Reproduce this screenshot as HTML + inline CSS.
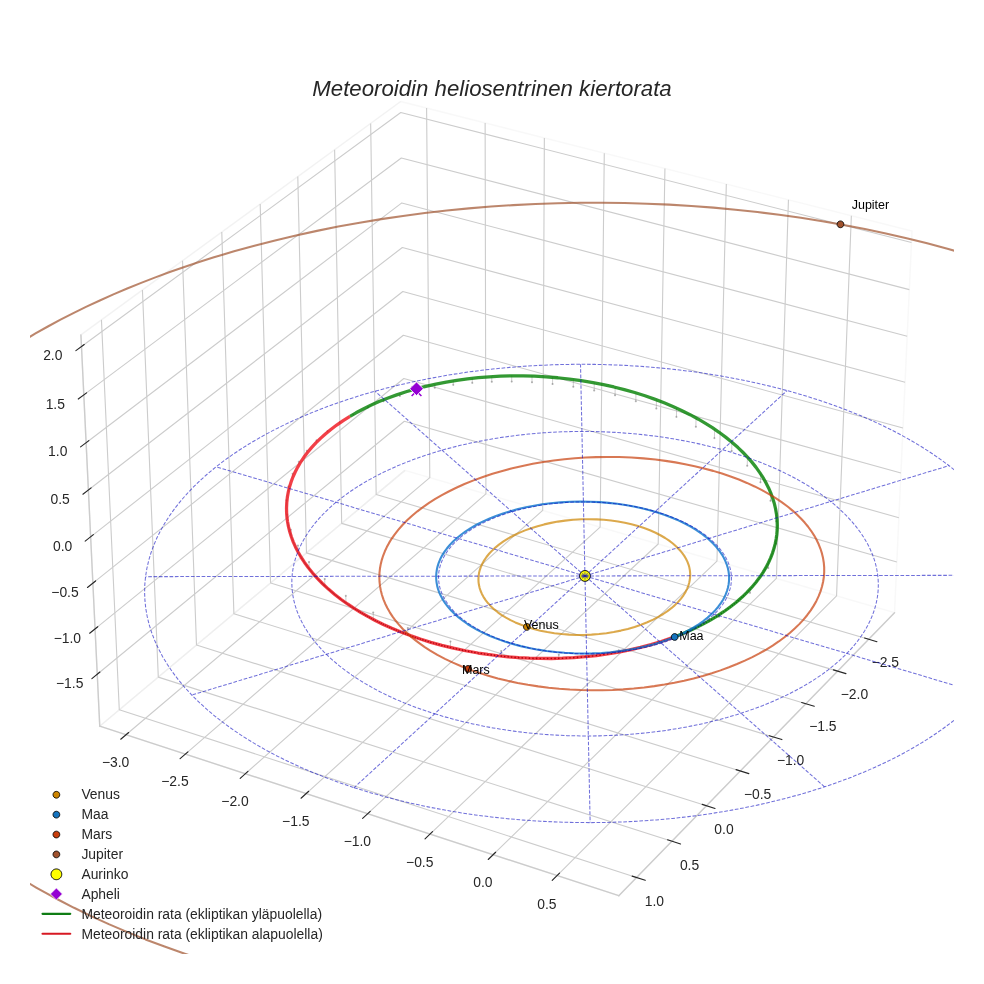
<!DOCTYPE html>
<html lang="fi"><head><meta charset="utf-8"><title>Meteoroidin heliosentrinen kiertorata</title>
<style>html,body{margin:0;padding:0;background:#fff}svg{display:block}</style></head>
<body>
<svg width="984" height="984" viewBox="0 0 708.48 708.48">
<defs>
<style type="text/css">*{stroke-linejoin: round; stroke-linecap: butt}</style>
</defs>
<g id="figure_1">
<g id="patch_1">
<path d="M 0 708.48 L 708.48 708.48 L 708.48 0 L 0 0 z" style="fill: #ffffff"/>
</g>
<g id="patch_2">
<path d="M 21.6 686.88 L 686.88 686.88 L 686.88 21.6 L 21.6 21.6 z" style="fill: #ffffff"/>
</g>
<g id="pane3d_1">
<g id="patch_3">
<path d="M 291.53 338.68 L 644.06 441.15 L 656.64 166.42 L 288.47 73.10" style="fill: none; opacity: 0.5; stroke: #f2f2f2; stroke-linejoin: miter"/>
</g>
</g>
<g id="pane3d_2">
<g id="patch_4">
<path d="M 291.53 338.68 L 71.83 522.84 L 58.26 241.10 L 288.47 73.10" style="fill: none; opacity: 0.5; stroke: #e6e6e6; stroke-linejoin: miter"/>
</g>
</g>
<g id="pane3d_3">
<g id="patch_5">
<path d="M 291.53 338.68 L 71.83 522.84 L 445.53 644.89 L 644.06 441.15" style="fill: none; opacity: 0.5; stroke: #ececec; stroke-linejoin: miter"/>
</g>
</g>
<g id="grid3d_1">
<g id="Line3DCollection_1">
<path d="M 625.45 460.25 L 270.85 356.01 L 266.88 88.86" style="fill: none; stroke: #cccccc; stroke-width: 0.8"/>
<path d="M 603.07 483.22 L 246.01 376.84 L 240.92 107.80" style="fill: none; stroke: #cccccc; stroke-width: 0.8"/>
<path d="M 580.22 506.67 L 220.66 398.08 L 214.41 127.15" style="fill: none; stroke: #cccccc; stroke-width: 0.8"/>
<path d="M 556.88 530.62 L 194.81 419.76 L 187.34 146.90" style="fill: none; stroke: #cccccc; stroke-width: 0.8"/>
<path d="M 533.03 555.10 L 168.41 441.88 L 159.68 167.08" style="fill: none; stroke: #cccccc; stroke-width: 0.8"/>
<path d="M 508.66 580.11 L 141.47 464.46 L 131.43 187.70" style="fill: none; stroke: #cccccc; stroke-width: 0.8"/>
<path d="M 483.75 605.67 L 113.97 487.52 L 102.55 208.77" style="fill: none; stroke: #cccccc; stroke-width: 0.8"/>
<path d="M 458.28 631.81 L 85.88 511.06 L 73.04 230.31" style="fill: none; stroke: #cccccc; stroke-width: 0.8"/>
</g>
</g>
<g id="grid3d_2">
<g id="Line3DCollection_2">
<path d="M 307.15 77.83 L 309.45 343.89 L 90.74 529.02" style="fill: none; stroke: #cccccc; stroke-width: 0.8"/>
<path d="M 349.29 88.52 L 349.86 355.64 L 133.44 542.96" style="fill: none; stroke: #cccccc; stroke-width: 0.8"/>
<path d="M 391.93 99.32 L 390.74 367.52 L 176.67 557.08" style="fill: none; stroke: #cccccc; stroke-width: 0.8"/>
<path d="M 435.08 110.26 L 432.09 379.54 L 220.44 571.37" style="fill: none; stroke: #cccccc; stroke-width: 0.8"/>
<path d="M 478.75 121.33 L 473.91 391.70 L 264.75 585.85" style="fill: none; stroke: #cccccc; stroke-width: 0.8"/>
<path d="M 522.95 132.53 L 516.22 403.99 L 309.63 600.50" style="fill: none; stroke: #cccccc; stroke-width: 0.8"/>
<path d="M 567.68 143.87 L 559.02 416.43 L 355.08 615.35" style="fill: none; stroke: #cccccc; stroke-width: 0.8"/>
<path d="M 612.97 155.35 L 602.32 429.02 L 401.11 630.38" style="fill: none; stroke: #cccccc; stroke-width: 0.8"/>
</g>
</g>
<g id="grid3d_3">
<g id="Line3DCollection_3">
<path d="M 70.03 485.43 L 291.12 303.31 L 645.73 404.62" style="fill: none; stroke: #cccccc; stroke-width: 0.8"/>
<path d="M 68.46 452.81 L 290.76 272.49 L 647.19 372.78" style="fill: none; stroke: #cccccc; stroke-width: 0.8"/>
<path d="M 66.87 419.84 L 290.41 241.36 L 648.67 340.61" style="fill: none; stroke: #cccccc; stroke-width: 0.8"/>
<path d="M 65.26 386.51 L 290.04 209.92 L 650.15 308.10" style="fill: none; stroke: #cccccc; stroke-width: 0.8"/>
<path d="M 63.64 352.82 L 289.68 178.18 L 651.66 275.25" style="fill: none; stroke: #cccccc; stroke-width: 0.8"/>
<path d="M 62.00 318.76 L 289.31 146.11 L 653.18 242.06" style="fill: none; stroke: #cccccc; stroke-width: 0.8"/>
<path d="M 60.34 284.33 L 288.94 113.72 L 654.71 208.51" style="fill: none; stroke: #cccccc; stroke-width: 0.8"/>
<path d="M 58.67 249.51 L 288.56 81.00 L 656.27 174.61" style="fill: none; stroke: #cccccc; stroke-width: 0.8"/>
</g>
</g>
<g id="axis3d_1">
<g id="line2d_1">
<path d="M 644.06 441.15 L 445.53 644.89" style="fill: none; stroke: #cccccc; stroke-linecap: round"/>
</g>
<g id="xtick_1">
<g id="line2d_2">
<path d="M 363.23 345.24" clip-path="url(#p04e8b476af)" style="fill: none; stroke: #cccccc; stroke-width: 0.8; stroke-linecap: round"/>
</g>
<g id="line2d_3">
<path d="M 622.48 459.37 L 631.41 462.00" style="fill: none; stroke: #262626; stroke-width: 0.8; stroke-linecap: round"/>
</g>
<g id="text_1">
<text style="font-size: 10px; font-family: 'Liberation Sans', sans-serif; text-anchor: middle; fill: #262626" x="637.44" y="479.91" transform="rotate(0 637.44 479.91)">−2.5</text>
</g>
</g>
<g id="xtick_2">
<g id="line2d_4">
<path d="M 363.23 345.24" clip-path="url(#p04e8b476af)" style="fill: none; stroke: #cccccc; stroke-width: 0.8; stroke-linecap: round"/>
</g>
<g id="line2d_5">
<path d="M 600.07 482.32 L 609.08 485.01" style="fill: none; stroke: #262626; stroke-width: 0.8; stroke-linecap: round"/>
</g>
<g id="text_2">
<text style="font-size: 10px; font-family: 'Liberation Sans', sans-serif; text-anchor: middle; fill: #262626" x="615.18" y="503.01" transform="rotate(0 615.18 503.01)">−2.0</text>
</g>
</g>
<g id="xtick_3">
<g id="line2d_6">
<path d="M 363.23 345.24" clip-path="url(#p04e8b476af)" style="fill: none; stroke: #cccccc; stroke-width: 0.8; stroke-linecap: round"/>
</g>
<g id="line2d_7">
<path d="M 577.20 505.76 L 586.27 508.50" style="fill: none; stroke: #262626; stroke-width: 0.8; stroke-linecap: round"/>
</g>
<g id="text_3">
<text style="font-size: 10px; font-family: 'Liberation Sans', sans-serif; text-anchor: middle; fill: #262626" x="592.45" y="526.60" transform="rotate(0 592.45 526.60)">−1.5</text>
</g>
</g>
<g id="xtick_4">
<g id="line2d_8">
<path d="M 363.23 345.24" clip-path="url(#p04e8b476af)" style="fill: none; stroke: #cccccc; stroke-width: 0.8; stroke-linecap: round"/>
</g>
<g id="line2d_9">
<path d="M 553.83 529.69 L 562.97 532.49" style="fill: none; stroke: #262626; stroke-width: 0.8; stroke-linecap: round"/>
</g>
<g id="text_4">
<text style="font-size: 10px; font-family: 'Liberation Sans', sans-serif; text-anchor: middle; fill: #262626" x="569.23" y="550.70" transform="rotate(0 569.23 550.70)">−1.0</text>
</g>
</g>
<g id="xtick_5">
<g id="line2d_10">
<path d="M 363.23 345.24" clip-path="url(#p04e8b476af)" style="fill: none; stroke: #cccccc; stroke-width: 0.8; stroke-linecap: round"/>
</g>
<g id="line2d_11">
<path d="M 529.96 554.15 L 539.17 557.01" style="fill: none; stroke: #262626; stroke-width: 0.8; stroke-linecap: round"/>
</g>
<g id="text_5">
<text style="font-size: 10px; font-family: 'Liberation Sans', sans-serif; text-anchor: middle; fill: #262626" x="545.51" y="575.32" transform="rotate(0 545.51 575.32)">−0.5</text>
</g>
</g>
<g id="xtick_6">
<g id="line2d_12">
<path d="M 363.23 345.24" clip-path="url(#p04e8b476af)" style="fill: none; stroke: #cccccc; stroke-width: 0.8; stroke-linecap: round"/>
</g>
<g id="line2d_13">
<path d="M 505.57 579.13 L 514.85 582.06" style="fill: none; stroke: #262626; stroke-width: 0.8; stroke-linecap: round"/>
</g>
<g id="text_6">
<text style="font-size: 10px; font-family: 'Liberation Sans', sans-serif; text-anchor: middle; fill: #262626" x="521.27" y="600.47" transform="rotate(0 521.27 600.47)">0.0</text>
</g>
</g>
<g id="xtick_7">
<g id="line2d_14">
<path d="M 363.23 345.24" clip-path="url(#p04e8b476af)" style="fill: none; stroke: #cccccc; stroke-width: 0.8; stroke-linecap: round"/>
</g>
<g id="line2d_15">
<path d="M 480.63 604.68 L 489.99 607.66" style="fill: none; stroke: #262626; stroke-width: 0.8; stroke-linecap: round"/>
</g>
<g id="text_7">
<text style="font-size: 10px; font-family: 'Liberation Sans', sans-serif; text-anchor: middle; fill: #262626" x="496.49" y="626.19" transform="rotate(0 496.49 626.19)">0.5</text>
</g>
</g>
<g id="xtick_8">
<g id="line2d_16">
<path d="M 363.23 345.24" clip-path="url(#p04e8b476af)" style="fill: none; stroke: #cccccc; stroke-width: 0.8; stroke-linecap: round"/>
</g>
<g id="line2d_17">
<path d="M 455.14 630.79 L 464.57 633.84" style="fill: none; stroke: #262626; stroke-width: 0.8; stroke-linecap: round"/>
</g>
<g id="text_8">
<text style="font-size: 10px; font-family: 'Liberation Sans', sans-serif; text-anchor: middle; fill: #262626" x="471.16" y="652.48" transform="rotate(0 471.16 652.48)">1.0</text>
</g>
</g>
</g>
<g id="axis3d_2">
<g id="line2d_18">
<path d="M 71.83 522.84 L 445.53 644.89" style="fill: none; stroke: #cccccc; stroke-linecap: round"/>
</g>
<g id="xtick_9">
<g id="line2d_19">
<path d="M 363.23 345.24" clip-path="url(#p04e8b476af)" style="fill: none; stroke: #cccccc; stroke-width: 0.8; stroke-linecap: round"/>
</g>
<g id="line2d_20">
<path d="M 92.65 527.40 L 86.93 532.25" style="fill: none; stroke: #262626; stroke-width: 0.8; stroke-linecap: round"/>
</g>
<g id="text_9">
<text style="font-size: 10px; font-family: 'Liberation Sans', sans-serif; text-anchor: middle; fill: #262626" x="83.23" y="551.93" transform="rotate(0 83.23 551.93)">−3.0</text>
</g>
</g>
<g id="xtick_10">
<g id="line2d_21">
<path d="M 363.23 345.24" clip-path="url(#p04e8b476af)" style="fill: none; stroke: #cccccc; stroke-width: 0.8; stroke-linecap: round"/>
</g>
<g id="line2d_22">
<path d="M 135.33 541.33 L 129.66 546.23" style="fill: none; stroke: #262626; stroke-width: 0.8; stroke-linecap: round"/>
</g>
<g id="text_10">
<text style="font-size: 10px; font-family: 'Liberation Sans', sans-serif; text-anchor: middle; fill: #262626" x="125.95" y="565.99" transform="rotate(0 125.95 565.99)">−2.5</text>
</g>
</g>
<g id="xtick_11">
<g id="line2d_23">
<path d="M 363.23 345.24" clip-path="url(#p04e8b476af)" style="fill: none; stroke: #cccccc; stroke-width: 0.8; stroke-linecap: round"/>
</g>
<g id="line2d_24">
<path d="M 178.53 555.43 L 172.93 560.39" style="fill: none; stroke: #262626; stroke-width: 0.8; stroke-linecap: round"/>
</g>
<g id="text_11">
<text style="font-size: 10px; font-family: 'Liberation Sans', sans-serif; text-anchor: middle; fill: #262626" x="169.19" y="580.23" transform="rotate(0 169.19 580.23)">−2.0</text>
</g>
</g>
<g id="xtick_12">
<g id="line2d_25">
<path d="M 363.23 345.24" clip-path="url(#p04e8b476af)" style="fill: none; stroke: #cccccc; stroke-width: 0.8; stroke-linecap: round"/>
</g>
<g id="line2d_26">
<path d="M 222.28 569.70 L 216.74 574.73" style="fill: none; stroke: #262626; stroke-width: 0.8; stroke-linecap: round"/>
</g>
<g id="text_12">
<text style="font-size: 10px; font-family: 'Liberation Sans', sans-serif; text-anchor: middle; fill: #262626" x="212.98" y="594.64" transform="rotate(0 212.98 594.64)">−1.5</text>
</g>
</g>
<g id="xtick_13">
<g id="line2d_27">
<path d="M 363.23 345.24" clip-path="url(#p04e8b476af)" style="fill: none; stroke: #cccccc; stroke-width: 0.8; stroke-linecap: round"/>
</g>
<g id="line2d_28">
<path d="M 266.58 584.15 L 261.09 589.24" style="fill: none; stroke: #262626; stroke-width: 0.8; stroke-linecap: round"/>
</g>
<g id="text_13">
<text style="font-size: 10px; font-family: 'Liberation Sans', sans-serif; text-anchor: middle; fill: #262626" x="257.31" y="609.24" transform="rotate(0 257.31 609.24)">−1.0</text>
</g>
</g>
<g id="xtick_14">
<g id="line2d_29">
<path d="M 363.23 345.24" clip-path="url(#p04e8b476af)" style="fill: none; stroke: #cccccc; stroke-width: 0.8; stroke-linecap: round"/>
</g>
<g id="line2d_30">
<path d="M 311.43 598.79 L 306.02 603.94" style="fill: none; stroke: #262626; stroke-width: 0.8; stroke-linecap: round"/>
</g>
<g id="text_14">
<text style="font-size: 10px; font-family: 'Liberation Sans', sans-serif; text-anchor: middle; fill: #262626" x="302.21" y="624.02" transform="rotate(0 302.21 624.02)">−0.5</text>
</g>
</g>
<g id="xtick_15">
<g id="line2d_31">
<path d="M 363.23 345.24" clip-path="url(#p04e8b476af)" style="fill: none; stroke: #cccccc; stroke-width: 0.8; stroke-linecap: round"/>
</g>
<g id="line2d_32">
<path d="M 356.86 613.61 L 351.51 618.83" style="fill: none; stroke: #262626; stroke-width: 0.8; stroke-linecap: round"/>
</g>
<g id="text_15">
<text style="font-size: 10px; font-family: 'Liberation Sans', sans-serif; text-anchor: middle; fill: #262626" x="347.69" y="638.99" transform="rotate(0 347.69 638.99)">0.0</text>
</g>
</g>
<g id="xtick_16">
<g id="line2d_33">
<path d="M 363.23 345.24" clip-path="url(#p04e8b476af)" style="fill: none; stroke: #cccccc; stroke-width: 0.8; stroke-linecap: round"/>
</g>
<g id="line2d_34">
<path d="M 402.87 628.62 L 397.59 633.91" style="fill: none; stroke: #262626; stroke-width: 0.8; stroke-linecap: round"/>
</g>
<g id="text_16">
<text style="font-size: 10px; font-family: 'Liberation Sans', sans-serif; text-anchor: middle; fill: #262626" x="393.74" y="654.16" transform="rotate(0 393.74 654.16)">0.5</text>
</g>
</g>
</g>
<g id="axis3d_3">
<g id="line2d_35">
<path d="M 71.83 522.84 L 58.26 241.10" style="fill: none; stroke: #cccccc; stroke-linecap: round"/>
</g>
<g id="xtick_17">
<g id="line2d_36">
<path d="M 363.23 345.24" style="fill: none; stroke: #cccccc; stroke-width: 0.8; stroke-linecap: round"/>
</g>
<g id="line2d_37">
<path d="M 71.95 483.85 L 66.17 488.61" style="fill: none; stroke: #262626; stroke-width: 0.8; stroke-linecap: round"/>
</g>
<g id="text_17">
<text style="font-size: 10px; font-family: 'Liberation Sans', sans-serif; text-anchor: middle; fill: #262626" x="50.17" y="495.47" transform="rotate(0 50.17 495.47)">−1.5</text>
</g>
</g>
<g id="xtick_18">
<g id="line2d_38">
<path d="M 363.23 345.24" style="fill: none; stroke: #cccccc; stroke-width: 0.8; stroke-linecap: round"/>
</g>
<g id="line2d_39">
<path d="M 70.39 451.24 L 64.57 455.96" style="fill: none; stroke: #262626; stroke-width: 0.8; stroke-linecap: round"/>
</g>
<g id="text_18">
<text style="font-size: 10px; font-family: 'Liberation Sans', sans-serif; text-anchor: middle; fill: #262626" x="48.49" y="462.82" transform="rotate(0 48.49 462.82)">−1.0</text>
</g>
</g>
<g id="xtick_19">
<g id="line2d_40">
<path d="M 363.23 345.24" style="fill: none; stroke: #cccccc; stroke-width: 0.8; stroke-linecap: round"/>
</g>
<g id="line2d_41">
<path d="M 68.82 418.29 L 62.96 422.96" style="fill: none; stroke: #262626; stroke-width: 0.8; stroke-linecap: round"/>
</g>
<g id="text_19">
<text style="font-size: 10px; font-family: 'Liberation Sans', sans-serif; text-anchor: middle; fill: #262626" x="46.79" y="429.82" transform="rotate(0 46.79 429.82)">−0.5</text>
</g>
</g>
<g id="xtick_20">
<g id="line2d_42">
<path d="M 363.23 345.24" style="fill: none; stroke: #cccccc; stroke-width: 0.8; stroke-linecap: round"/>
</g>
<g id="line2d_43">
<path d="M 67.22 384.97 L 61.33 389.60" style="fill: none; stroke: #262626; stroke-width: 0.8; stroke-linecap: round"/>
</g>
<g id="text_20">
<text style="font-size: 10px; font-family: 'Liberation Sans', sans-serif; text-anchor: middle; fill: #262626" x="45.08" y="396.47" transform="rotate(0 45.08 396.47)">0.0</text>
</g>
</g>
<g id="xtick_21">
<g id="line2d_44">
<path d="M 363.23 345.24" style="fill: none; stroke: #cccccc; stroke-width: 0.8; stroke-linecap: round"/>
</g>
<g id="line2d_45">
<path d="M 65.61 351.30 L 59.69 355.88" style="fill: none; stroke: #262626; stroke-width: 0.8; stroke-linecap: round"/>
</g>
<g id="text_21">
<text style="font-size: 10px; font-family: 'Liberation Sans', sans-serif; text-anchor: middle; fill: #262626" x="43.34" y="362.75" transform="rotate(0 43.34 362.75)">0.5</text>
</g>
</g>
<g id="xtick_22">
<g id="line2d_46">
<path d="M 363.23 345.24" style="fill: none; stroke: #cccccc; stroke-width: 0.8; stroke-linecap: round"/>
</g>
<g id="line2d_47">
<path d="M 63.98 317.25 L 58.02 321.78" style="fill: none; stroke: #262626; stroke-width: 0.8; stroke-linecap: round"/>
</g>
<g id="text_22">
<text style="font-size: 10px; font-family: 'Liberation Sans', sans-serif; text-anchor: middle; fill: #262626" x="41.59" y="328.66" transform="rotate(0 41.59 328.66)">1.0</text>
</g>
</g>
<g id="xtick_23">
<g id="line2d_48">
<path d="M 363.23 345.24" style="fill: none; stroke: #cccccc; stroke-width: 0.8; stroke-linecap: round"/>
</g>
<g id="line2d_49">
<path d="M 62.34 282.84 L 56.34 287.31" style="fill: none; stroke: #262626; stroke-width: 0.8; stroke-linecap: round"/>
</g>
<g id="text_23">
<text style="font-size: 10px; font-family: 'Liberation Sans', sans-serif; text-anchor: middle; fill: #262626" x="39.82" y="294.19" transform="rotate(0 39.82 294.19)">1.5</text>
</g>
</g>
<g id="xtick_24">
<g id="line2d_50">
<path d="M 363.23 345.24" style="fill: none; stroke: #cccccc; stroke-width: 0.8; stroke-linecap: round"/>
</g>
<g id="line2d_51">
<path d="M 60.67 248.04 L 54.64 252.46" style="fill: none; stroke: #262626; stroke-width: 0.8; stroke-linecap: round"/>
</g>
<g id="text_24">
<text style="font-size: 10px; font-family: 'Liberation Sans', sans-serif; text-anchor: middle; fill: #262626" x="38.03" y="259.34" transform="rotate(0 38.03 259.34)">2.0</text>
</g>
</g>
</g>
<g id="axes_1">
<g id="line2d_52">
<path d="M 485.50 458.59 L 485.50 458.59" clip-path="url(#p04e8b476af)" style="fill: none; stroke: #808080; stroke-opacity: 0.55; stroke-width: 0.5; stroke-linecap: round"/>
</g>
<g id="line2d_53">
<path d="M 517.69 442.67 L 517.66 444.08" clip-path="url(#p04e8b476af)" style="fill: none; stroke: #808080; stroke-opacity: 0.55; stroke-width: 0.5; stroke-linecap: round"/>
</g>
<g id="line2d_54">
<path d="M 540.08 424.18 L 540.01 426.84" clip-path="url(#p04e8b476af)" style="fill: none; stroke: #808080; stroke-opacity: 0.55; stroke-width: 0.5; stroke-linecap: round"/>
</g>
<g id="line2d_55">
<path d="M 553.27 405.20 L 553.16 408.91" clip-path="url(#p04e8b476af)" style="fill: none; stroke: #808080; stroke-opacity: 0.55; stroke-width: 0.5; stroke-linecap: round"/>
</g>
<g id="line2d_56">
<path d="M 559.01 386.99 L 558.86 391.55" clip-path="url(#p04e8b476af)" style="fill: none; stroke: #808080; stroke-opacity: 0.55; stroke-width: 0.5; stroke-linecap: round"/>
</g>
<g id="line2d_57">
<path d="M 559.07 370.16 L 558.91 375.36" clip-path="url(#p04e8b476af)" style="fill: none; stroke: #808080; stroke-opacity: 0.55; stroke-width: 0.5; stroke-linecap: round"/>
</g>
<g id="line2d_58">
<path d="M 554.93 354.90 L 554.76 360.58" clip-path="url(#p04e8b476af)" style="fill: none; stroke: #808080; stroke-opacity: 0.55; stroke-width: 0.5; stroke-linecap: round"/>
</g>
<g id="line2d_59">
<path d="M 547.70 341.24 L 547.52 347.26" clip-path="url(#p04e8b476af)" style="fill: none; stroke: #808080; stroke-opacity: 0.55; stroke-width: 0.5; stroke-linecap: round"/>
</g>
<g id="line2d_60">
<path d="M 538.18 329.11 L 538.00 335.35" clip-path="url(#p04e8b476af)" style="fill: none; stroke: #808080; stroke-opacity: 0.55; stroke-width: 0.5; stroke-linecap: round"/>
</g>
<g id="line2d_61">
<path d="M 526.97 318.41 L 526.81 324.77" clip-path="url(#p04e8b476af)" style="fill: none; stroke: #808080; stroke-opacity: 0.55; stroke-width: 0.5; stroke-linecap: round"/>
</g>
<g id="line2d_62">
<path d="M 514.52 309.03 L 514.37 315.44" clip-path="url(#p04e8b476af)" style="fill: none; stroke: #808080; stroke-opacity: 0.55; stroke-width: 0.5; stroke-linecap: round"/>
</g>
<g id="line2d_63">
<path d="M 501.16 300.88 L 501.02 307.26" clip-path="url(#p04e8b476af)" style="fill: none; stroke: #808080; stroke-opacity: 0.55; stroke-width: 0.5; stroke-linecap: round"/>
</g>
<g id="line2d_64">
<path d="M 487.14 293.86 L 487.02 300.15" clip-path="url(#p04e8b476af)" style="fill: none; stroke: #808080; stroke-opacity: 0.55; stroke-width: 0.5; stroke-linecap: round"/>
</g>
<g id="line2d_65">
<path d="M 472.66 287.89 L 472.56 294.04" clip-path="url(#p04e8b476af)" style="fill: none; stroke: #808080; stroke-opacity: 0.55; stroke-width: 0.5; stroke-linecap: round"/>
</g>
<g id="line2d_66">
<path d="M 457.88 282.91 L 457.79 288.87" clip-path="url(#p04e8b476af)" style="fill: none; stroke: #808080; stroke-opacity: 0.55; stroke-width: 0.5; stroke-linecap: round"/>
</g>
<g id="line2d_67">
<path d="M 442.91 278.84 L 442.84 284.57" clip-path="url(#p04e8b476af)" style="fill: none; stroke: #808080; stroke-opacity: 0.55; stroke-width: 0.5; stroke-linecap: round"/>
</g>
<g id="line2d_68">
<path d="M 427.86 275.64 L 427.81 281.10" clip-path="url(#p04e8b476af)" style="fill: none; stroke: #808080; stroke-opacity: 0.55; stroke-width: 0.5; stroke-linecap: round"/>
</g>
<g id="line2d_69">
<path d="M 412.82 273.25 L 412.78 278.42" clip-path="url(#p04e8b476af)" style="fill: none; stroke: #808080; stroke-opacity: 0.55; stroke-width: 0.5; stroke-linecap: round"/>
</g>
<g id="line2d_70">
<path d="M 397.86 271.64 L 397.84 276.48" clip-path="url(#p04e8b476af)" style="fill: none; stroke: #808080; stroke-opacity: 0.55; stroke-width: 0.5; stroke-linecap: round"/>
</g>
<g id="line2d_71">
<path d="M 383.05 270.78 L 383.03 275.27" clip-path="url(#p04e8b476af)" style="fill: none; stroke: #808080; stroke-opacity: 0.55; stroke-width: 0.5; stroke-linecap: round"/>
</g>
<g id="line2d_72">
<path d="M 368.43 270.63 L 368.43 274.74" clip-path="url(#p04e8b476af)" style="fill: none; stroke: #808080; stroke-opacity: 0.55; stroke-width: 0.5; stroke-linecap: round"/>
</g>
<g id="line2d_73">
<path d="M 354.08 271.16 L 354.08 274.88" clip-path="url(#p04e8b476af)" style="fill: none; stroke: #808080; stroke-opacity: 0.55; stroke-width: 0.5; stroke-linecap: round"/>
</g>
<g id="line2d_74">
<path d="M 340.02 272.36 L 340.03 275.67" clip-path="url(#p04e8b476af)" style="fill: none; stroke: #808080; stroke-opacity: 0.55; stroke-width: 0.5; stroke-linecap: round"/>
</g>
<g id="line2d_75">
<path d="M 326.32 274.21 L 326.34 277.10" clip-path="url(#p04e8b476af)" style="fill: none; stroke: #808080; stroke-opacity: 0.55; stroke-width: 0.5; stroke-linecap: round"/>
</g>
<g id="line2d_76">
<path d="M 313.03 276.70 L 313.05 279.14" clip-path="url(#p04e8b476af)" style="fill: none; stroke: #808080; stroke-opacity: 0.55; stroke-width: 0.5; stroke-linecap: round"/>
</g>
<g id="line2d_77">
<path d="M 300.19 279.80 L 300.21 281.79" clip-path="url(#p04e8b476af)" style="fill: none; stroke: #808080; stroke-opacity: 0.55; stroke-width: 0.5; stroke-linecap: round"/>
</g>
<g id="line2d_78">
<path d="M 287.85 283.52 L 287.87 285.05" clip-path="url(#p04e8b476af)" style="fill: none; stroke: #808080; stroke-opacity: 0.55; stroke-width: 0.5; stroke-linecap: round"/>
</g>
<g id="line2d_79">
<path d="M 276.07 287.85 L 276.09 288.90" clip-path="url(#p04e8b476af)" style="fill: none; stroke: #808080; stroke-opacity: 0.55; stroke-width: 0.5; stroke-linecap: round"/>
</g>
<g id="line2d_80">
<path d="M 264.91 292.77 L 264.92 293.35" clip-path="url(#p04e8b476af)" style="fill: none; stroke: #808080; stroke-opacity: 0.55; stroke-width: 0.5; stroke-linecap: round"/>
</g>
<g id="line2d_81">
<path d="M 254.44 298.30 L 254.44 298.39" clip-path="url(#p04e8b476af)" style="fill: none; stroke: #808080; stroke-opacity: 0.55; stroke-width: 0.5; stroke-linecap: round"/>
</g>
<g id="line2d_82">
<path d="M 244.72 304.41 L 244.72 304.03" clip-path="url(#p04e8b476af)" style="fill: none; stroke: #808080; stroke-opacity: 0.55; stroke-width: 0.5; stroke-linecap: round"/>
</g>
<g id="line2d_83">
<path d="M 235.84 311.12 L 235.83 310.25" clip-path="url(#p04e8b476af)" style="fill: none; stroke: #808080; stroke-opacity: 0.55; stroke-width: 0.5; stroke-linecap: round"/>
</g>
<g id="line2d_84">
<path d="M 227.89 318.42 L 227.86 317.07" clip-path="url(#p04e8b476af)" style="fill: none; stroke: #808080; stroke-opacity: 0.55; stroke-width: 0.5; stroke-linecap: round"/>
</g>
<g id="line2d_85">
<path d="M 220.98 326.32 L 220.94 324.49" clip-path="url(#p04e8b476af)" style="fill: none; stroke: #808080; stroke-opacity: 0.55; stroke-width: 0.5; stroke-linecap: round"/>
</g>
<g id="line2d_86">
<path d="M 215.21 334.80 L 215.16 332.51" clip-path="url(#p04e8b476af)" style="fill: none; stroke: #808080; stroke-opacity: 0.55; stroke-width: 0.5; stroke-linecap: round"/>
</g>
<g id="line2d_87">
<path d="M 210.74 343.87 L 210.68 341.12" clip-path="url(#p04e8b476af)" style="fill: none; stroke: #808080; stroke-opacity: 0.55; stroke-width: 0.5; stroke-linecap: round"/>
</g>
<g id="line2d_88">
<path d="M 207.73 353.52 L 207.65 350.34" clip-path="url(#p04e8b476af)" style="fill: none; stroke: #808080; stroke-opacity: 0.55; stroke-width: 0.5; stroke-linecap: round"/>
</g>
<g id="line2d_89">
<path d="M 206.36 363.73 L 206.27 360.14" clip-path="url(#p04e8b476af)" style="fill: none; stroke: #808080; stroke-opacity: 0.55; stroke-width: 0.5; stroke-linecap: round"/>
</g>
<g id="line2d_90">
<path d="M 206.86 374.49 L 206.76 370.51" clip-path="url(#p04e8b476af)" style="fill: none; stroke: #808080; stroke-opacity: 0.55; stroke-width: 0.5; stroke-linecap: round"/>
</g>
<g id="line2d_91">
<path d="M 209.51 385.76 L 209.41 381.43" clip-path="url(#p04e8b476af)" style="fill: none; stroke: #808080; stroke-opacity: 0.55; stroke-width: 0.5; stroke-linecap: round"/>
</g>
<g id="line2d_92">
<path d="M 214.63 397.47 L 214.52 392.85" clip-path="url(#p04e8b476af)" style="fill: none; stroke: #808080; stroke-opacity: 0.55; stroke-width: 0.5; stroke-linecap: round"/>
</g>
<g id="line2d_93">
<path d="M 222.61 409.54 L 222.50 404.68" clip-path="url(#p04e8b476af)" style="fill: none; stroke: #808080; stroke-opacity: 0.55; stroke-width: 0.5; stroke-linecap: round"/>
</g>
<g id="line2d_94">
<path d="M 233.91 421.83 L 233.80 416.81" clip-path="url(#p04e8b476af)" style="fill: none; stroke: #808080; stroke-opacity: 0.55; stroke-width: 0.5; stroke-linecap: round"/>
</g>
<g id="line2d_95">
<path d="M 249.09 434.10 L 249.00 429.02" clip-path="url(#p04e8b476af)" style="fill: none; stroke: #808080; stroke-opacity: 0.55; stroke-width: 0.5; stroke-linecap: round"/>
</g>
<g id="line2d_96">
<path d="M 268.80 446.01 L 268.72 440.99" clip-path="url(#p04e8b476af)" style="fill: none; stroke: #808080; stroke-opacity: 0.55; stroke-width: 0.5; stroke-linecap: round"/>
</g>
<g id="line2d_97">
<path d="M 293.69 457.00 L 293.64 452.21" clip-path="url(#p04e8b476af)" style="fill: none; stroke: #808080; stroke-opacity: 0.55; stroke-width: 0.5; stroke-linecap: round"/>
</g>
<g id="line2d_98">
<path d="M 324.36 466.21 L 324.33 461.86" clip-path="url(#p04e8b476af)" style="fill: none; stroke: #808080; stroke-opacity: 0.55; stroke-width: 0.5; stroke-linecap: round"/>
</g>
<g id="line2d_99">
<path d="M 360.91 472.41 L 360.91 468.76" clip-path="url(#p04e8b476af)" style="fill: none; stroke: #808080; stroke-opacity: 0.55; stroke-width: 0.5; stroke-linecap: round"/>
</g>
<g id="line2d_100">
<path d="M 402.31 474.01 L 402.33 471.34" clip-path="url(#p04e8b476af)" style="fill: none; stroke: #808080; stroke-opacity: 0.55; stroke-width: 0.5; stroke-linecap: round"/>
</g>
<g id="line2d_101">
<path d="M 445.48 469.51 L 445.50 468.10" clip-path="url(#p04e8b476af)" style="fill: none; stroke: #808080; stroke-opacity: 0.55; stroke-width: 0.5; stroke-linecap: round"/>
</g>
<g id="Path3DCollection_1">
<g clip-path="url(#p04e8b476af)">
<path d="M 0 0.74 C 0.19 0.74 0.38 0.66 0.52 0.52 C 0.66 0.38 0.74 0.19 0.74 0 C 0.74 -0.19 0.66 -0.38 0.52 -0.52 C 0.38 -0.66 0.19 -0.74 0 -0.74 C -0.19 -0.74 -0.38 -0.66 -0.52 -0.52 C -0.66 -0.38 -0.74 -0.19 -0.74 0 C -0.74 0.19 -0.66 0.38 -0.52 0.52 C -0.38 0.66 -0.19 0.74 0 0.74 z" transform="translate(368.44 274.75)" style="fill: #808080; fill-opacity: 0.55"/>
<path d="M 0 0.74 C 0.19 0.74 0.38 0.66 0.52 0.52 C 0.66 0.38 0.74 0.19 0.74 0 C 0.74 -0.19 0.66 -0.38 0.52 -0.52 C 0.38 -0.66 0.19 -0.74 0 -0.74 C -0.19 -0.74 -0.38 -0.66 -0.52 -0.52 C -0.66 -0.38 -0.74 -0.19 -0.74 0 C -0.74 0.19 -0.66 0.38 -0.52 0.52 C -0.38 0.66 -0.19 0.74 0 0.74 z" transform="translate(354.09 274.89)" style="fill: #808080; fill-opacity: 0.55"/>
<path d="M 0 0.74 C 0.19 0.74 0.38 0.66 0.52 0.52 C 0.66 0.38 0.74 0.19 0.74 0 C 0.74 -0.19 0.66 -0.38 0.52 -0.52 C 0.38 -0.66 0.19 -0.74 0 -0.74 C -0.19 -0.74 -0.38 -0.66 -0.52 -0.52 C -0.66 -0.38 -0.74 -0.19 -0.74 0 C -0.74 0.19 -0.66 0.38 -0.52 0.52 C -0.38 0.66 -0.19 0.74 0 0.74 z" transform="translate(383.04 275.27)" style="fill: #808080; fill-opacity: 0.55"/>
<path d="M 0 0.74 C 0.19 0.74 0.38 0.66 0.52 0.52 C 0.66 0.38 0.74 0.19 0.74 0 C 0.74 -0.19 0.66 -0.38 0.52 -0.52 C 0.38 -0.66 0.19 -0.74 0 -0.74 C -0.19 -0.74 -0.38 -0.66 -0.52 -0.52 C -0.66 -0.38 -0.74 -0.19 -0.74 0 C -0.74 0.19 -0.66 0.38 -0.52 0.52 C -0.38 0.66 -0.19 0.74 0 0.74 z" transform="translate(340.04 275.68)" style="fill: #808080; fill-opacity: 0.55"/>
<path d="M 0 0.74 C 0.19 0.74 0.38 0.66 0.52 0.52 C 0.66 0.38 0.74 0.19 0.74 0 C 0.74 -0.19 0.66 -0.38 0.52 -0.52 C 0.38 -0.66 0.19 -0.74 0 -0.74 C -0.19 -0.74 -0.38 -0.66 -0.52 -0.52 C -0.66 -0.38 -0.74 -0.19 -0.74 0 C -0.74 0.19 -0.66 0.38 -0.52 0.52 C -0.38 0.66 -0.19 0.74 0 0.74 z" transform="translate(397.84 276.49)" style="fill: #808080; fill-opacity: 0.55"/>
<path d="M 0 0.74 C 0.19 0.74 0.38 0.66 0.52 0.52 C 0.66 0.38 0.74 0.19 0.74 0 C 0.74 -0.19 0.66 -0.38 0.52 -0.52 C 0.38 -0.66 0.19 -0.74 0 -0.74 C -0.19 -0.74 -0.38 -0.66 -0.52 -0.52 C -0.66 -0.38 -0.74 -0.19 -0.74 0 C -0.74 0.19 -0.66 0.38 -0.52 0.52 C -0.38 0.66 -0.19 0.74 0 0.74 z" transform="translate(326.35 277.10)" style="fill: #808080; fill-opacity: 0.55"/>
<path d="M 0 0.74 C 0.19 0.74 0.38 0.66 0.52 0.52 C 0.66 0.38 0.74 0.19 0.74 0 C 0.74 -0.19 0.66 -0.38 0.52 -0.52 C 0.38 -0.66 0.19 -0.74 0 -0.74 C -0.19 -0.74 -0.38 -0.66 -0.52 -0.52 C -0.66 -0.38 -0.74 -0.19 -0.74 0 C -0.74 0.19 -0.66 0.38 -0.52 0.52 C -0.38 0.66 -0.19 0.74 0 0.74 z" transform="translate(412.79 278.42)" style="fill: #808080; fill-opacity: 0.55"/>
<path d="M 0 0.74 C 0.19 0.74 0.38 0.66 0.52 0.52 C 0.66 0.38 0.74 0.19 0.74 0 C 0.74 -0.19 0.66 -0.38 0.52 -0.52 C 0.38 -0.66 0.19 -0.74 0 -0.74 C -0.19 -0.74 -0.38 -0.66 -0.52 -0.52 C -0.66 -0.38 -0.74 -0.19 -0.74 0 C -0.74 0.19 -0.66 0.38 -0.52 0.52 C -0.38 0.66 -0.19 0.74 0 0.74 z" transform="translate(313.05 279.14)" style="fill: #808080; fill-opacity: 0.55"/>
<path d="M 0 0.74 C 0.19 0.74 0.38 0.66 0.52 0.52 C 0.66 0.38 0.74 0.19 0.74 0 C 0.74 -0.19 0.66 -0.38 0.52 -0.52 C 0.38 -0.66 0.19 -0.74 0 -0.74 C -0.19 -0.74 -0.38 -0.66 -0.52 -0.52 C -0.66 -0.38 -0.74 -0.19 -0.74 0 C -0.74 0.19 -0.66 0.38 -0.52 0.52 C -0.38 0.66 -0.19 0.74 0 0.74 z" transform="translate(427.81 281.11)" style="fill: #808080; fill-opacity: 0.55"/>
<path d="M 0 0.74 C 0.19 0.74 0.38 0.66 0.52 0.52 C 0.66 0.38 0.74 0.19 0.74 0 C 0.74 -0.19 0.66 -0.38 0.52 -0.52 C 0.38 -0.66 0.19 -0.74 0 -0.74 C -0.19 -0.74 -0.38 -0.66 -0.52 -0.52 C -0.66 -0.38 -0.74 -0.19 -0.74 0 C -0.74 0.19 -0.66 0.38 -0.52 0.52 C -0.38 0.66 -0.19 0.74 0 0.74 z" transform="translate(300.21 281.80)" style="fill: #808080; fill-opacity: 0.55"/>
<path d="M 0 0.74 C 0.19 0.74 0.38 0.66 0.52 0.52 C 0.66 0.38 0.74 0.19 0.74 0 C 0.74 -0.19 0.66 -0.38 0.52 -0.52 C 0.38 -0.66 0.19 -0.74 0 -0.74 C -0.19 -0.74 -0.38 -0.66 -0.52 -0.52 C -0.66 -0.38 -0.74 -0.19 -0.74 0 C -0.74 0.19 -0.66 0.38 -0.52 0.52 C -0.38 0.66 -0.19 0.74 0 0.74 z" transform="translate(442.84 284.57)" style="fill: #808080; fill-opacity: 0.55"/>
<path d="M 0 0.74 C 0.19 0.74 0.38 0.66 0.52 0.52 C 0.66 0.38 0.74 0.19 0.74 0 C 0.74 -0.19 0.66 -0.38 0.52 -0.52 C 0.38 -0.66 0.19 -0.74 0 -0.74 C -0.19 -0.74 -0.38 -0.66 -0.52 -0.52 C -0.66 -0.38 -0.74 -0.19 -0.74 0 C -0.74 0.19 -0.66 0.38 -0.52 0.52 C -0.38 0.66 -0.19 0.74 0 0.74 z" transform="translate(287.87 285.05)" style="fill: #808080; fill-opacity: 0.55"/>
<path d="M 0 0.74 C 0.19 0.74 0.38 0.66 0.52 0.52 C 0.66 0.38 0.74 0.19 0.74 0 C 0.74 -0.19 0.66 -0.38 0.52 -0.52 C 0.38 -0.66 0.19 -0.74 0 -0.74 C -0.19 -0.74 -0.38 -0.66 -0.52 -0.52 C -0.66 -0.38 -0.74 -0.19 -0.74 0 C -0.74 0.19 -0.66 0.38 -0.52 0.52 C -0.38 0.66 -0.19 0.74 0 0.74 z" transform="translate(457.79 288.87)" style="fill: #808080; fill-opacity: 0.55"/>
<path d="M 0 0.74 C 0.19 0.74 0.38 0.66 0.52 0.52 C 0.66 0.38 0.74 0.19 0.74 0 C 0.74 -0.19 0.66 -0.38 0.52 -0.52 C 0.38 -0.66 0.19 -0.74 0 -0.74 C -0.19 -0.74 -0.38 -0.66 -0.52 -0.52 C -0.66 -0.38 -0.74 -0.19 -0.74 0 C -0.74 0.19 -0.66 0.38 -0.52 0.52 C -0.38 0.66 -0.19 0.74 0 0.74 z" transform="translate(276.09 288.91)" style="fill: #808080; fill-opacity: 0.55"/>
<path d="M 0 0.74 C 0.19 0.74 0.38 0.66 0.52 0.52 C 0.66 0.38 0.74 0.19 0.74 0 C 0.74 -0.19 0.66 -0.38 0.52 -0.52 C 0.38 -0.66 0.19 -0.74 0 -0.74 C -0.19 -0.74 -0.38 -0.66 -0.52 -0.52 C -0.66 -0.38 -0.74 -0.19 -0.74 0 C -0.74 0.19 -0.66 0.38 -0.52 0.52 C -0.38 0.66 -0.19 0.74 0 0.74 z" transform="translate(472.56 294.05)" style="fill: #808080; fill-opacity: 0.55"/>
<path d="M 0 0.74 C 0.19 0.74 0.38 0.66 0.52 0.52 C 0.66 0.38 0.74 0.19 0.74 0 C 0.74 -0.19 0.66 -0.38 0.52 -0.52 C 0.38 -0.66 0.19 -0.74 0 -0.74 C -0.19 -0.74 -0.38 -0.66 -0.52 -0.52 C -0.66 -0.38 -0.74 -0.19 -0.74 0 C -0.74 0.19 -0.66 0.38 -0.52 0.52 C -0.38 0.66 -0.19 0.74 0 0.74 z" transform="translate(264.93 293.36)" style="fill: #808080; fill-opacity: 0.55"/>
<path d="M 0 0.74 C 0.19 0.74 0.38 0.66 0.52 0.52 C 0.66 0.38 0.74 0.19 0.74 0 C 0.74 -0.19 0.66 -0.38 0.52 -0.52 C 0.38 -0.66 0.19 -0.74 0 -0.74 C -0.19 -0.74 -0.38 -0.66 -0.52 -0.52 C -0.66 -0.38 -0.74 -0.19 -0.74 0 C -0.74 0.19 -0.66 0.38 -0.52 0.52 C -0.38 0.66 -0.19 0.74 0 0.74 z" transform="translate(254.45 298.40)" style="fill: #808080; fill-opacity: 0.55"/>
<path d="M 0 0.74 C 0.19 0.74 0.38 0.66 0.52 0.52 C 0.66 0.38 0.74 0.19 0.74 0 C 0.74 -0.19 0.66 -0.38 0.52 -0.52 C 0.38 -0.66 0.19 -0.74 0 -0.74 C -0.19 -0.74 -0.38 -0.66 -0.52 -0.52 C -0.66 -0.38 -0.74 -0.19 -0.74 0 C -0.74 0.19 -0.66 0.38 -0.52 0.52 C -0.38 0.66 -0.19 0.74 0 0.74 z" transform="translate(487.02 300.15)" style="fill: #808080; fill-opacity: 0.55"/>
<path d="M 0 0.74 C 0.19 0.74 0.38 0.66 0.52 0.52 C 0.66 0.38 0.74 0.19 0.74 0 C 0.74 -0.19 0.66 -0.38 0.52 -0.52 C 0.38 -0.66 0.19 -0.74 0 -0.74 C -0.19 -0.74 -0.38 -0.66 -0.52 -0.52 C -0.66 -0.38 -0.74 -0.19 -0.74 0 C -0.74 0.19 -0.66 0.38 -0.52 0.52 C -0.38 0.66 -0.19 0.74 0 0.74 z" transform="translate(244.72 304.03)" style="fill: #808080; fill-opacity: 0.55"/>
<path d="M 0 0.74 C 0.19 0.74 0.38 0.66 0.52 0.52 C 0.66 0.38 0.74 0.19 0.74 0 C 0.74 -0.19 0.66 -0.38 0.52 -0.52 C 0.38 -0.66 0.19 -0.74 0 -0.74 C -0.19 -0.74 -0.38 -0.66 -0.52 -0.52 C -0.66 -0.38 -0.74 -0.19 -0.74 0 C -0.74 0.19 -0.66 0.38 -0.52 0.52 C -0.38 0.66 -0.19 0.74 0 0.74 z" transform="translate(501.03 307.26)" style="fill: #808080; fill-opacity: 0.55"/>
<path d="M 0 0.74 C 0.19 0.74 0.38 0.66 0.52 0.52 C 0.66 0.38 0.74 0.19 0.74 0 C 0.74 -0.19 0.66 -0.38 0.52 -0.52 C 0.38 -0.66 0.19 -0.74 0 -0.74 C -0.19 -0.74 -0.38 -0.66 -0.52 -0.52 C -0.66 -0.38 -0.74 -0.19 -0.74 0 C -0.74 0.19 -0.66 0.38 -0.52 0.52 C -0.38 0.66 -0.19 0.74 0 0.74 z" transform="translate(235.83 310.26)" style="fill: #808080; fill-opacity: 0.55"/>
<path d="M 0 0.74 C 0.19 0.74 0.38 0.66 0.52 0.52 C 0.66 0.38 0.74 0.19 0.74 0 C 0.74 -0.19 0.66 -0.38 0.52 -0.52 C 0.38 -0.66 0.19 -0.74 0 -0.74 C -0.19 -0.74 -0.38 -0.66 -0.52 -0.52 C -0.66 -0.38 -0.74 -0.19 -0.74 0 C -0.74 0.19 -0.66 0.38 -0.52 0.52 C -0.38 0.66 -0.19 0.74 0 0.74 z" transform="translate(514.37 315.44)" style="fill: #808080; fill-opacity: 0.55"/>
<path d="M 0 0.74 C 0.19 0.74 0.38 0.66 0.52 0.52 C 0.66 0.38 0.74 0.19 0.74 0 C 0.74 -0.19 0.66 -0.38 0.52 -0.52 C 0.38 -0.66 0.19 -0.74 0 -0.74 C -0.19 -0.74 -0.38 -0.66 -0.52 -0.52 C -0.66 -0.38 -0.74 -0.19 -0.74 0 C -0.74 0.19 -0.66 0.38 -0.52 0.52 C -0.38 0.66 -0.19 0.74 0 0.74 z" transform="translate(227.87 317.08)" style="fill: #808080; fill-opacity: 0.55"/>
<path d="M 0 0.74 C 0.19 0.74 0.38 0.66 0.52 0.52 C 0.66 0.38 0.74 0.19 0.74 0 C 0.74 -0.19 0.66 -0.38 0.52 -0.52 C 0.38 -0.66 0.19 -0.74 0 -0.74 C -0.19 -0.74 -0.38 -0.66 -0.52 -0.52 C -0.66 -0.38 -0.74 -0.19 -0.74 0 C -0.74 0.19 -0.66 0.38 -0.52 0.52 C -0.38 0.66 -0.19 0.74 0 0.74 z" transform="translate(526.81 324.78)" style="fill: #808080; fill-opacity: 0.55"/>
<path d="M 0 0.74 C 0.19 0.74 0.38 0.66 0.52 0.52 C 0.66 0.38 0.74 0.19 0.74 0 C 0.74 -0.19 0.66 -0.38 0.52 -0.52 C 0.38 -0.66 0.19 -0.74 0 -0.74 C -0.19 -0.74 -0.38 -0.66 -0.52 -0.52 C -0.66 -0.38 -0.74 -0.19 -0.74 0 C -0.74 0.19 -0.66 0.38 -0.52 0.52 C -0.38 0.66 -0.19 0.74 0 0.74 z" transform="translate(220.94 324.50)" style="fill: #808080; fill-opacity: 0.55"/>
<path d="M 0 0.74 C 0.19 0.74 0.38 0.66 0.52 0.52 C 0.66 0.38 0.74 0.19 0.74 0 C 0.74 -0.19 0.66 -0.38 0.52 -0.52 C 0.38 -0.66 0.19 -0.74 0 -0.74 C -0.19 -0.74 -0.38 -0.66 -0.52 -0.52 C -0.66 -0.38 -0.74 -0.19 -0.74 0 C -0.74 0.19 -0.66 0.38 -0.52 0.52 C -0.38 0.66 -0.19 0.74 0 0.74 z" transform="translate(215.16 332.51)" style="fill: #808080; fill-opacity: 0.55"/>
<path d="M 0 0.74 C 0.19 0.74 0.38 0.66 0.52 0.52 C 0.66 0.38 0.74 0.19 0.74 0 C 0.74 -0.19 0.66 -0.38 0.52 -0.52 C 0.38 -0.66 0.19 -0.74 0 -0.74 C -0.19 -0.74 -0.38 -0.66 -0.52 -0.52 C -0.66 -0.38 -0.74 -0.19 -0.74 0 C -0.74 0.19 -0.66 0.38 -0.52 0.52 C -0.38 0.66 -0.19 0.74 0 0.74 z" transform="translate(538.01 335.35)" style="fill: #808080; fill-opacity: 0.55"/>
<path d="M 0 0.74 C 0.19 0.74 0.38 0.66 0.52 0.52 C 0.66 0.38 0.74 0.19 0.74 0 C 0.74 -0.19 0.66 -0.38 0.52 -0.52 C 0.38 -0.66 0.19 -0.74 0 -0.74 C -0.19 -0.74 -0.38 -0.66 -0.52 -0.52 C -0.66 -0.38 -0.74 -0.19 -0.74 0 C -0.74 0.19 -0.66 0.38 -0.52 0.52 C -0.38 0.66 -0.19 0.74 0 0.74 z" transform="translate(210.68 341.13)" style="fill: #808080; fill-opacity: 0.55"/>
<path d="M 0 0.74 C 0.19 0.74 0.38 0.66 0.52 0.52 C 0.66 0.38 0.74 0.19 0.74 0 C 0.74 -0.19 0.66 -0.38 0.52 -0.52 C 0.38 -0.66 0.19 -0.74 0 -0.74 C -0.19 -0.74 -0.38 -0.66 -0.52 -0.52 C -0.66 -0.38 -0.74 -0.19 -0.74 0 C -0.74 0.19 -0.66 0.38 -0.52 0.52 C -0.38 0.66 -0.19 0.74 0 0.74 z" transform="translate(547.52 347.26)" style="fill: #808080; fill-opacity: 0.55"/>
<path d="M 0 0.74 C 0.19 0.74 0.38 0.66 0.52 0.52 C 0.66 0.38 0.74 0.19 0.74 0 C 0.74 -0.19 0.66 -0.38 0.52 -0.52 C 0.38 -0.66 0.19 -0.74 0 -0.74 C -0.19 -0.74 -0.38 -0.66 -0.52 -0.52 C -0.66 -0.38 -0.74 -0.19 -0.74 0 C -0.74 0.19 -0.66 0.38 -0.52 0.52 C -0.38 0.66 -0.19 0.74 0 0.74 z" transform="translate(207.65 350.34)" style="fill: #808080; fill-opacity: 0.55"/>
<path d="M 0 0.74 C 0.19 0.74 0.38 0.66 0.52 0.52 C 0.66 0.38 0.74 0.19 0.74 0 C 0.74 -0.19 0.66 -0.38 0.52 -0.52 C 0.38 -0.66 0.19 -0.74 0 -0.74 C -0.19 -0.74 -0.38 -0.66 -0.52 -0.52 C -0.66 -0.38 -0.74 -0.19 -0.74 0 C -0.74 0.19 -0.66 0.38 -0.52 0.52 C -0.38 0.66 -0.19 0.74 0 0.74 z" transform="translate(554.76 360.58)" style="fill: #808080; fill-opacity: 0.55"/>
<path d="M 0 0.74 C 0.19 0.74 0.38 0.66 0.52 0.52 C 0.66 0.38 0.74 0.19 0.74 0 C 0.74 -0.19 0.66 -0.38 0.52 -0.52 C 0.38 -0.66 0.19 -0.74 0 -0.74 C -0.19 -0.74 -0.38 -0.66 -0.52 -0.52 C -0.66 -0.38 -0.74 -0.19 -0.74 0 C -0.74 0.19 -0.66 0.38 -0.52 0.52 C -0.38 0.66 -0.19 0.74 0 0.74 z" transform="translate(206.27 360.14)" style="fill: #808080; fill-opacity: 0.55"/>
<path d="M 0 0.74 C 0.19 0.74 0.38 0.66 0.52 0.52 C 0.66 0.38 0.74 0.19 0.74 0 C 0.74 -0.19 0.66 -0.38 0.52 -0.52 C 0.38 -0.66 0.19 -0.74 0 -0.74 C -0.19 -0.74 -0.38 -0.66 -0.52 -0.52 C -0.66 -0.38 -0.74 -0.19 -0.74 0 C -0.74 0.19 -0.66 0.38 -0.52 0.52 C -0.38 0.66 -0.19 0.74 0 0.74 z" transform="translate(206.77 370.52)" style="fill: #808080; fill-opacity: 0.55"/>
<path d="M 0 0.74 C 0.19 0.74 0.38 0.66 0.52 0.52 C 0.66 0.38 0.74 0.19 0.74 0 C 0.74 -0.19 0.66 -0.38 0.52 -0.52 C 0.38 -0.66 0.19 -0.74 0 -0.74 C -0.19 -0.74 -0.38 -0.66 -0.52 -0.52 C -0.66 -0.38 -0.74 -0.19 -0.74 0 C -0.74 0.19 -0.66 0.38 -0.52 0.52 C -0.38 0.66 -0.19 0.74 0 0.74 z" transform="translate(558.91 375.36)" style="fill: #808080; fill-opacity: 0.55"/>
<path d="M 0 0.74 C 0.19 0.74 0.38 0.66 0.52 0.52 C 0.66 0.38 0.74 0.19 0.74 0 C 0.74 -0.19 0.66 -0.38 0.52 -0.52 C 0.38 -0.66 0.19 -0.74 0 -0.74 C -0.19 -0.74 -0.38 -0.66 -0.52 -0.52 C -0.66 -0.38 -0.74 -0.19 -0.74 0 C -0.74 0.19 -0.66 0.38 -0.52 0.52 C -0.38 0.66 -0.19 0.74 0 0.74 z" transform="translate(209.41 381.43)" style="fill: #808080; fill-opacity: 0.55"/>
<path d="M 0 0.74 C 0.19 0.74 0.38 0.66 0.52 0.52 C 0.66 0.38 0.74 0.19 0.74 0 C 0.74 -0.19 0.66 -0.38 0.52 -0.52 C 0.38 -0.66 0.19 -0.74 0 -0.74 C -0.19 -0.74 -0.38 -0.66 -0.52 -0.52 C -0.66 -0.38 -0.74 -0.19 -0.74 0 C -0.74 0.19 -0.66 0.38 -0.52 0.52 C -0.38 0.66 -0.19 0.74 0 0.74 z" transform="translate(558.87 391.55)" style="fill: #808080; fill-opacity: 0.55"/>
<path d="M 0 0.74 C 0.19 0.74 0.38 0.66 0.52 0.52 C 0.66 0.38 0.74 0.19 0.74 0 C 0.74 -0.19 0.66 -0.38 0.52 -0.52 C 0.38 -0.66 0.19 -0.74 0 -0.74 C -0.19 -0.74 -0.38 -0.66 -0.52 -0.52 C -0.66 -0.38 -0.74 -0.19 -0.74 0 C -0.74 0.19 -0.66 0.38 -0.52 0.52 C -0.38 0.66 -0.19 0.74 0 0.74 z" transform="translate(214.52 392.85)" style="fill: #808080; fill-opacity: 0.55"/>
<path d="M 0 0.74 C 0.19 0.74 0.38 0.66 0.52 0.52 C 0.66 0.38 0.74 0.19 0.74 0 C 0.74 -0.19 0.66 -0.38 0.52 -0.52 C 0.38 -0.66 0.19 -0.74 0 -0.74 C -0.19 -0.74 -0.38 -0.66 -0.52 -0.52 C -0.66 -0.38 -0.74 -0.19 -0.74 0 C -0.74 0.19 -0.66 0.38 -0.52 0.52 C -0.38 0.66 -0.19 0.74 0 0.74 z" transform="translate(222.50 404.68)" style="fill: #808080; fill-opacity: 0.55"/>
<path d="M 0 0.74 C 0.19 0.74 0.38 0.66 0.52 0.52 C 0.66 0.38 0.74 0.19 0.74 0 C 0.74 -0.19 0.66 -0.38 0.52 -0.52 C 0.38 -0.66 0.19 -0.74 0 -0.74 C -0.19 -0.74 -0.38 -0.66 -0.52 -0.52 C -0.66 -0.38 -0.74 -0.19 -0.74 0 C -0.74 0.19 -0.66 0.38 -0.52 0.52 C -0.38 0.66 -0.19 0.74 0 0.74 z" transform="translate(553.16 408.92)" style="fill: #808080; fill-opacity: 0.55"/>
<path d="M 0 0.74 C 0.19 0.74 0.38 0.66 0.52 0.52 C 0.66 0.38 0.74 0.19 0.74 0 C 0.74 -0.19 0.66 -0.38 0.52 -0.52 C 0.38 -0.66 0.19 -0.74 0 -0.74 C -0.19 -0.74 -0.38 -0.66 -0.52 -0.52 C -0.66 -0.38 -0.74 -0.19 -0.74 0 C -0.74 0.19 -0.66 0.38 -0.52 0.52 C -0.38 0.66 -0.19 0.74 0 0.74 z" transform="translate(233.81 416.81)" style="fill: #808080; fill-opacity: 0.55"/>
<path d="M 0 0.74 C 0.19 0.74 0.38 0.66 0.52 0.52 C 0.66 0.38 0.74 0.19 0.74 0 C 0.74 -0.19 0.66 -0.38 0.52 -0.52 C 0.38 -0.66 0.19 -0.74 0 -0.74 C -0.19 -0.74 -0.38 -0.66 -0.52 -0.52 C -0.66 -0.38 -0.74 -0.19 -0.74 0 C -0.74 0.19 -0.66 0.38 -0.52 0.52 C -0.38 0.66 -0.19 0.74 0 0.74 z" transform="translate(540.01 426.85)" style="fill: #808080; fill-opacity: 0.55"/>
<path d="M 0 0.74 C 0.19 0.74 0.38 0.66 0.52 0.52 C 0.66 0.38 0.74 0.19 0.74 0 C 0.74 -0.19 0.66 -0.38 0.52 -0.52 C 0.38 -0.66 0.19 -0.74 0 -0.74 C -0.19 -0.74 -0.38 -0.66 -0.52 -0.52 C -0.66 -0.38 -0.74 -0.19 -0.74 0 C -0.74 0.19 -0.66 0.38 -0.52 0.52 C -0.38 0.66 -0.19 0.74 0 0.74 z" transform="translate(249.00 429.02)" style="fill: #808080; fill-opacity: 0.55"/>
<path d="M 0 0.74 C 0.19 0.74 0.38 0.66 0.52 0.52 C 0.66 0.38 0.74 0.19 0.74 0 C 0.74 -0.19 0.66 -0.38 0.52 -0.52 C 0.38 -0.66 0.19 -0.74 0 -0.74 C -0.19 -0.74 -0.38 -0.66 -0.52 -0.52 C -0.66 -0.38 -0.74 -0.19 -0.74 0 C -0.74 0.19 -0.66 0.38 -0.52 0.52 C -0.38 0.66 -0.19 0.74 0 0.74 z" transform="translate(268.72 441.00)" style="fill: #808080; fill-opacity: 0.55"/>
<path d="M 0 0.74 C 0.19 0.74 0.38 0.66 0.52 0.52 C 0.66 0.38 0.74 0.19 0.74 0 C 0.74 -0.19 0.66 -0.38 0.52 -0.52 C 0.38 -0.66 0.19 -0.74 0 -0.74 C -0.19 -0.74 -0.38 -0.66 -0.52 -0.52 C -0.66 -0.38 -0.74 -0.19 -0.74 0 C -0.74 0.19 -0.66 0.38 -0.52 0.52 C -0.38 0.66 -0.19 0.74 0 0.74 z" transform="translate(517.66 444.08)" style="fill: #808080; fill-opacity: 0.55"/>
<path d="M 0 0.74 C 0.19 0.74 0.38 0.66 0.52 0.52 C 0.66 0.38 0.74 0.19 0.74 0 C 0.74 -0.19 0.66 -0.38 0.52 -0.52 C 0.38 -0.66 0.19 -0.74 0 -0.74 C -0.19 -0.74 -0.38 -0.66 -0.52 -0.52 C -0.66 -0.38 -0.74 -0.19 -0.74 0 C -0.74 0.19 -0.66 0.38 -0.52 0.52 C -0.38 0.66 -0.19 0.74 0 0.74 z" transform="translate(293.64 452.21)" style="fill: #808080; fill-opacity: 0.55"/>
<path d="M 0 0.74 C 0.19 0.74 0.38 0.66 0.52 0.52 C 0.66 0.38 0.74 0.19 0.74 0 C 0.74 -0.19 0.66 -0.38 0.52 -0.52 C 0.38 -0.66 0.19 -0.74 0 -0.74 C -0.19 -0.74 -0.38 -0.66 -0.52 -0.52 C -0.66 -0.38 -0.74 -0.19 -0.74 0 C -0.74 0.19 -0.66 0.38 -0.52 0.52 C -0.38 0.66 -0.19 0.74 0 0.74 z" transform="translate(485.50 458.59)" style="fill: #808080; fill-opacity: 0.55"/>
<path d="M 0 0.74 C 0.19 0.74 0.38 0.66 0.52 0.52 C 0.66 0.38 0.74 0.19 0.74 0 C 0.74 -0.19 0.66 -0.38 0.52 -0.52 C 0.38 -0.66 0.19 -0.74 0 -0.74 C -0.19 -0.74 -0.38 -0.66 -0.52 -0.52 C -0.66 -0.38 -0.74 -0.19 -0.74 0 C -0.74 0.19 -0.66 0.38 -0.52 0.52 C -0.38 0.66 -0.19 0.74 0 0.74 z" transform="translate(324.34 461.87)" style="fill: #808080; fill-opacity: 0.55"/>
<path d="M 0 0.74 C 0.19 0.74 0.38 0.66 0.52 0.52 C 0.66 0.38 0.74 0.19 0.74 0 C 0.74 -0.19 0.66 -0.38 0.52 -0.52 C 0.38 -0.66 0.19 -0.74 0 -0.74 C -0.19 -0.74 -0.38 -0.66 -0.52 -0.52 C -0.66 -0.38 -0.74 -0.19 -0.74 0 C -0.74 0.19 -0.66 0.38 -0.52 0.52 C -0.38 0.66 -0.19 0.74 0 0.74 z" transform="translate(445.51 468.11)" style="fill: #808080; fill-opacity: 0.55"/>
<path d="M 0 0.74 C 0.19 0.74 0.38 0.66 0.52 0.52 C 0.66 0.38 0.74 0.19 0.74 0 C 0.74 -0.19 0.66 -0.38 0.52 -0.52 C 0.38 -0.66 0.19 -0.74 0 -0.74 C -0.19 -0.74 -0.38 -0.66 -0.52 -0.52 C -0.66 -0.38 -0.74 -0.19 -0.74 0 C -0.74 0.19 -0.66 0.38 -0.52 0.52 C -0.38 0.66 -0.19 0.74 0 0.74 z" transform="translate(360.92 468.77)" style="fill: #808080; fill-opacity: 0.55"/>
<path d="M 0 0.74 C 0.19 0.74 0.38 0.66 0.52 0.52 C 0.66 0.38 0.74 0.19 0.74 0 C 0.74 -0.19 0.66 -0.38 0.52 -0.52 C 0.38 -0.66 0.19 -0.74 0 -0.74 C -0.19 -0.74 -0.38 -0.66 -0.52 -0.52 C -0.66 -0.38 -0.74 -0.19 -0.74 0 C -0.74 0.19 -0.66 0.38 -0.52 0.52 C -0.38 0.66 -0.19 0.74 0 0.74 z" transform="translate(402.33 471.35)" style="fill: #808080; fill-opacity: 0.55"/>
</g>
</g>
<g id="line2d_102">
<path d="M 485.50 458.59 L 492.23 455.92 L 498.66 453.08 L 504.77 450.10 L 510.54 446.99 L 515.96 443.77 L 521.04 440.45 L 525.75 437.05 L 530.12 433.60 L 534.14 430.09 L 537.82 426.55 L 541.16 422.99 L 544.18 419.41 L 546.89 415.84 L 549.30 412.27 L 551.43 408.72 L 553.27 405.20 L 554.86 401.70 L 556.20 398.24 L 557.29 394.81 L 558.17 391.43 L 558.83 388.09 L 559.29 384.81 L 559.56 381.57 L 559.65 378.39 L 559.50 374.22 L 559.07 370.16 L 558.38 366.20 L 557.45 362.33 L 556.29 358.57 L 554.93 354.90 L 553.38 351.34 L 551.64 347.88 L 549.75 344.51 L 547.16 340.44 L 544.36 336.52 L 541.36 332.74 L 538.18 329.11 L 534.83 325.62 L 531.34 322.26 L 526.97 318.41 L 522.43 314.74 L 517.73 311.25 L 512.90 307.94 L 507.94 304.81 L 502.87 301.83 L 496.84 298.57 L 490.70 295.51 L 484.46 292.66 L 478.14 290.01 L 471.75 287.55 L 464.38 284.97 L 456.95 282.63 L 449.47 280.51 L 441.97 278.61 L 434.45 276.94 L 426.92 275.46 L 418.46 274.05 L 410.01 272.89 L 401.59 271.98 L 393.22 271.30 L 384.89 270.85 L 376.63 270.63 L 368.43 270.63 L 360.32 270.84 L 352.30 271.28 L 344.38 271.92 L 336.56 272.77 L 328.86 273.82 L 321.29 275.07 L 313.85 276.52 L 306.55 278.17 L 299.40 280.02 L 292.41 282.06 L 285.60 284.29 L 278.96 286.71 L 272.51 289.32 L 266.96 291.80 L 261.56 294.44 L 256.35 297.21 L 251.94 299.77 L 251.94 299.77" clip-path="url(#p04e8b476af)" style="fill: none; stroke: #008000; stroke-opacity: 0.8; stroke-width: 2.35"/>
</g>
<g id="line2d_103">
<path d="M 251.94 299.77 L 247.08 302.83 L 242.42 306.03 L 237.98 309.39 L 234.28 312.45 L 230.76 315.62 L 227.43 318.90 L 224.30 322.30 L 221.38 325.81 L 218.67 329.43 L 216.20 333.16 L 214.27 336.46 L 212.53 339.83 L 210.98 343.29 L 209.64 346.82 L 208.50 350.44 L 207.59 354.14 L 206.91 357.92 L 206.48 361.77 L 206.30 365.71 L 206.36 369.05 L 206.61 372.43 L 207.07 375.87 L 207.74 379.36 L 208.63 382.90 L 209.76 386.48 L 211.12 390.10 L 212.74 393.77 L 214.63 397.47 L 216.80 401.21 L 219.25 404.98 L 222.02 408.78 L 225.10 412.60 L 228.52 416.44 L 232.30 420.29 L 236.44 424.14 L 240.98 427.99 L 245.92 431.82 L 250.19 434.86 L 254.73 437.89 L 259.58 440.88 L 264.73 443.83 L 270.19 446.73 L 275.99 449.58 L 282.12 452.35 L 288.60 455.04 L 295.44 457.63 L 302.64 460.12 L 310.21 462.47 L 318.15 464.67 L 326.48 466.70 L 335.17 468.54 L 344.23 470.17 L 351.25 471.23 L 358.47 472.14 L 365.86 472.90 L 373.43 473.49 L 381.14 473.89 L 388.99 474.10 L 396.95 474.12 L 405.00 473.91 L 413.11 473.49 L 421.24 472.85 L 429.37 471.97 L 437.47 470.86 L 445.48 469.51 L 453.39 467.93 L 461.15 466.13 L 468.72 464.11 L 476.08 461.87 L 483.19 459.44 L 485.50 458.59 L 485.50 458.59" clip-path="url(#p04e8b476af)" style="fill: none; stroke: #f01e28; stroke-opacity: 0.85; stroke-width: 2.35"/>
</g>
<g id="metdots">
<path d="M558.17 365.22h.01M557.95 364.26h.01M557.71 363.29h.01M557.45 362.34h.01M557.19 361.39h.01M556.90 360.44h.01M556.61 359.50h.01M556.30 358.57h.01M555.98 357.65h.01M555.64 356.73h.01M555.30 355.82h.01M554.94 354.91h.01M554.56 354.01h.01M554.18 353.11h.01M553.79 352.23h.01M553.38 351.35h.01M552.96 350.47h.01M552.54 349.60h.01M552.10 348.74h.01M551.65 347.88h.01M551.19 347.03h.01M550.72 346.19h.01M550.24 345.35h.01M549.75 344.52h.01M549.25 343.69h.01M548.74 342.87h.01M548.23 342.06h.01M547.70 341.25h.01M547.17 340.45h.01M546.62 339.65h.01M546.07 338.86h.01M545.51 338.07h.01" style="fill:none;stroke:#006e00;stroke-opacity:0.12;stroke-width:1.20;stroke-linecap:round"/>
<path d="M558.84 388.10h.01M559.01 387.00h.01M559.16 385.90h.01M559.29 384.81h.01M559.40 383.73h.01M559.49 382.65h.01M559.56 381.58h.01M559.61 380.51h.01M559.64 379.45h.01M559.65 378.39h.01M559.64 377.34h.01M559.61 376.30h.01M559.57 375.26h.01M559.50 374.23h.01M559.42 373.20h.01M559.32 372.18h.01M559.21 371.17h.01M559.07 370.16h.01M558.93 369.16h.01M558.76 368.17h.01M558.58 367.18h.01M558.38 366.20h.01" style="fill:none;stroke:#006e00;stroke-opacity:0.28;stroke-width:1.20;stroke-linecap:round"/>
<path d="M551.43 408.73h.01M552.08 407.55h.01M552.69 406.37h.01M553.28 405.20h.01M553.84 404.03h.01M554.36 402.87h.01M554.86 401.70h.01M555.34 400.55h.01M555.78 399.39h.01M556.20 398.24h.01M556.59 397.10h.01M556.96 395.95h.01M557.30 394.82h.01M557.62 393.68h.01M557.91 392.56h.01M558.17 391.44h.01M558.42 390.32h.01M558.64 389.21h.01" style="fill:none;stroke:#006e00;stroke-opacity:0.42;stroke-width:1.20;stroke-linecap:round"/>
<path d="M536.63 427.74h.01M537.82 426.55h.01M538.97 425.37h.01M540.09 424.18h.01M541.17 422.99h.01M542.21 421.80h.01M543.22 420.61h.01M544.19 419.42h.01M545.13 418.23h.01M546.03 417.03h.01M546.90 415.84h.01M547.73 414.65h.01M548.54 413.47h.01M549.31 412.28h.01M550.05 411.09h.01M550.75 409.91h.01" style="fill:none;stroke:#006e00;stroke-opacity:0.57;stroke-width:1.20;stroke-linecap:round"/>
<path d="M510.55 446.99h.01M512.39 445.93h.01M514.20 444.86h.01M515.97 443.77h.01M517.70 442.68h.01M519.39 441.57h.01M521.04 440.46h.01M522.65 439.33h.01M524.23 438.20h.01M525.76 437.06h.01M527.25 435.91h.01M528.71 434.76h.01M530.13 433.60h.01M531.50 432.44h.01M532.84 431.27h.01M534.14 430.10h.01M535.41 428.92h.01" style="fill:none;stroke:#006e00;stroke-opacity:0.73;stroke-width:1.20;stroke-linecap:round"/>
<path d="M485.50 458.59h.01M487.78 457.72h.01M490.03 456.83h.01M492.24 455.92h.01M494.42 454.99h.01M496.56 454.05h.01M498.67 453.09h.01M500.74 452.11h.01M502.78 451.11h.01M504.78 450.11h.01M506.74 449.08h.01M508.66 448.04h.01" style="fill:none;stroke:#006e00;stroke-opacity:0.86;stroke-width:1.20;stroke-linecap:round"/>
<path d="M208.86 349.23h.01M208.68 349.84h.01M208.51 350.45h.01M208.34 351.06h.01M208.18 351.67h.01M208.02 352.29h.01M207.87 352.90h.01M207.73 353.52h.01M207.60 354.14h.01M207.47 354.77h.01M207.34 355.40h.01M207.23 356.02h.01M207.12 356.65h.01M207.01 357.29h.01M206.92 357.92h.01M206.83 358.56h.01M206.75 359.20h.01M206.67 359.84h.01M206.60 360.49h.01M206.54 361.13h.01M206.48 361.78h.01M206.44 362.43h.01M206.40 363.08h.01M206.36 363.74h.01M206.34 364.39h.01M206.32 365.05h.01M206.31 365.71h.01M206.30 366.38h.01M206.31 367.04h.01M206.32 367.71h.01M206.34 368.38h.01M206.37 369.05h.01M206.40 369.72h.01M206.44 370.40h.01M206.49 371.08h.01M206.55 371.76h.01M206.62 372.44h.01M206.69 373.12h.01M206.78 373.81h.01M206.87 374.50h.01M206.97 375.19h.01M207.08 375.88h.01" style="fill:none;stroke:#b0000c;stroke-opacity:0.12;stroke-width:1.20;stroke-linecap:round"/>
<path d="M207.19 376.57h.01M207.32 377.27h.01M207.45 377.96h.01M207.59 378.66h.01M207.75 379.36h.01M207.91 380.07h.01M208.08 380.77h.01M208.25 381.48h.01M208.44 382.19h.01M208.64 382.90h.01M208.84 383.61h.01M209.06 384.33h.01M209.28 385.04h.01M209.52 385.76h.01M209.76 386.48h.01M210.02 387.20h.01M210.28 387.93h.01M210.55 388.65h.01M210.84 389.38h.01M211.13 390.11h.01M211.43 390.84h.01M211.75 391.57h.01M212.07 392.30h.01M212.40 393.04h.01M212.75 393.77h.01M213.10 394.51h.01M213.47 395.25h.01M213.85 395.99h.01M214.24 396.73h.01M214.64 397.48h.01M215.05 398.22h.01M215.47 398.97h.01" style="fill:none;stroke:#b0000c;stroke-opacity:0.28;stroke-width:1.20;stroke-linecap:round"/>
<path d="M215.90 399.72h.01M216.35 400.47h.01M216.80 401.22h.01M217.27 401.97h.01M217.75 402.72h.01M218.24 403.48h.01M218.74 404.23h.01M219.26 404.99h.01M219.79 405.75h.01M220.33 406.50h.01M220.88 407.26h.01M221.44 408.03h.01M222.02 408.79h.01M222.61 409.55h.01M223.22 410.31h.01M223.83 411.08h.01M224.46 411.84h.01M225.11 412.61h.01M225.76 413.38h.01M226.43 414.14h.01M227.12 414.91h.01M227.82 415.68h.01M228.53 416.45h.01M229.25 417.22h.01M229.99 417.99h.01M230.75 418.76h.01" style="fill:none;stroke:#b0000c;stroke-opacity:0.42;stroke-width:1.20;stroke-linecap:round"/>
<path d="M231.52 419.53h.01M232.30 420.30h.01M233.10 421.07h.01M233.92 421.84h.01M234.74 422.61h.01M235.59 423.38h.01M236.45 424.15h.01M237.32 424.92h.01M238.21 425.69h.01M239.12 426.46h.01M240.04 427.22h.01M240.98 427.99h.01M241.94 428.76h.01M242.91 429.53h.01M243.90 430.29h.01M244.91 431.06h.01M245.93 431.82h.01M246.97 432.59h.01M248.02 433.35h.01M249.10 434.11h.01M250.19 434.87h.01M251.30 435.63h.01M252.43 436.38h.01M253.57 437.14h.01" style="fill:none;stroke:#b0000c;stroke-opacity:0.57;stroke-width:1.20;stroke-linecap:round"/>
<path d="M254.74 437.89h.01M255.92 438.64h.01M257.12 439.39h.01M258.34 440.14h.01M259.58 440.88h.01M260.84 441.62h.01M262.12 442.36h.01M263.41 443.10h.01M264.73 443.83h.01M266.07 444.56h.01M267.42 445.29h.01M268.80 446.02h.01M270.20 446.74h.01M271.61 447.45h.01M273.05 448.17h.01M274.51 448.88h.01M275.99 449.58h.01M277.49 450.28h.01M279.01 450.98h.01M280.56 451.67h.01M282.12 452.35h.01M283.71 453.04h.01M285.32 453.71h.01M286.95 454.38h.01" style="fill:none;stroke:#b0000c;stroke-opacity:0.73;stroke-width:1.20;stroke-linecap:round"/>
<path d="M288.60 455.05h.01M290.28 455.70h.01M291.98 456.36h.01M293.70 457.00h.01M295.44 457.64h.01M297.21 458.27h.01M299.00 458.90h.01M300.81 459.51h.01M302.64 460.12h.01M304.50 460.72h.01M306.38 461.31h.01M308.29 461.90h.01M310.21 462.47h.01M312.16 463.04h.01M314.14 463.59h.01M316.14 464.14h.01M318.16 464.67h.01M320.20 465.20h.01M322.27 465.71h.01M324.36 466.22h.01M326.48 466.71h.01M328.62 467.19h.01M473.66 462.64h.01M476.08 461.88h.01M478.48 461.09h.01M480.85 460.28h.01M483.19 459.45h.01M485.50 458.59h.01" style="fill:none;stroke:#b0000c;stroke-opacity:0.86;stroke-width:1.20;stroke-linecap:round"/>
<path d="M330.78 467.65h.01M332.97 468.11h.01M335.17 468.55h.01M337.40 468.98h.01M339.66 469.39h.01M341.93 469.79h.01M344.23 470.17h.01M346.55 470.54h.01M348.89 470.90h.01M351.26 471.23h.01M353.64 471.56h.01M356.05 471.86h.01M358.47 472.15h.01M360.92 472.42h.01M363.38 472.67h.01M365.87 472.90h.01M368.37 473.12h.01M370.89 473.31h.01M373.43 473.49h.01M375.99 473.65h.01M378.56 473.78h.01M381.15 473.90h.01M383.75 473.99h.01M386.37 474.06h.01M389.00 474.11h.01M391.64 474.14h.01M394.29 474.14h.01M396.96 474.12h.01M399.63 474.08h.01M402.31 474.01h.01M405.00 473.92h.01M407.70 473.80h.01M410.40 473.66h.01M413.11 473.50h.01M415.82 473.31h.01M418.53 473.09h.01M421.25 472.85h.01M423.96 472.59h.01M426.67 472.29h.01M429.38 471.98h.01M432.08 471.63h.01M434.78 471.26h.01M437.47 470.86h.01M440.15 470.44h.01M442.83 469.99h.01M445.49 469.52h.01M448.14 469.02h.01M450.78 468.49h.01M453.40 467.94h.01M456.00 467.36h.01M458.59 466.76h.01M461.15 466.14h.01M463.70 465.48h.01M466.23 464.81h.01M468.73 464.11h.01M471.21 463.39h.01" style="fill:none;stroke:#b0000c;stroke-opacity:0.96;stroke-width:1.20;stroke-linecap:round"/>
</g>
<g id="line2d_104">
<path d="M 494.91 404.38 L 493.89 402.28 L 492.67 400.23 L 490.99 397.89 L 489.06 395.62 L 486.87 393.42 L 484.45 391.31 L 481.78 389.29 L 478.90 387.36 L 475.80 385.55 L 472.02 383.61 L 467.99 381.83 L 463.74 380.21 L 459.30 378.76 L 454.67 377.49 L 449.88 376.40 L 444.96 375.50 L 439.93 374.79 L 434.82 374.27 L 429.64 373.94 L 424.42 373.82 L 418.53 373.91 L 412.66 374.25 L 406.84 374.83 L 401.73 375.55 L 396.72 376.46 L 391.82 377.56 L 387.05 378.83 L 382.44 380.27 L 378.01 381.88 L 373.78 383.65 L 369.77 385.57 L 366.00 387.63 L 362.49 389.83 L 359.25 392.14 L 356.64 394.26 L 354.27 396.46 L 352.14 398.72 L 350.26 401.05 L 348.63 403.44 L 347.26 405.87 L 346.16 408.33 L 345.43 410.47 L 344.90 412.62 L 344.58 414.79 L 344.47 416.95 L 344.55 419.12 L 344.85 421.27 L 345.35 423.42 L 346.06 425.54 L 346.97 427.64 L 348.08 429.70 L 349.63 432.07 L 351.45 434.37 L 353.53 436.61 L 355.86 438.77 L 358.44 440.84 L 361.25 442.83 L 364.29 444.71 L 367.55 446.48 L 371.02 448.14 L 375.21 449.88 L 379.63 451.45 L 384.26 452.85 L 389.08 454.07 L 394.06 455.09 L 399.18 455.91 L 404.41 456.53 L 409.72 456.95 L 415.09 457.16 L 420.50 457.16 L 425.91 456.95 L 431.29 456.53 L 436.63 455.90 L 441.88 455.07 L 447.03 454.04 L 452.04 452.81 L 456.90 451.40 L 461.58 449.80 L 466.04 448.04 L 470.28 446.10 L 474.26 444.02 L 477.53 442.08 L 480.57 440.03 L 483.38 437.90 L 485.95 435.67 L 488.27 433.38 L 490.33 431.01 L 492.11 428.59 L 493.63 426.12 L 494.70 423.97 L 495.57 421.80 L 496.23 419.61 L 496.67 417.42 L 496.91 415.22 L 496.93 413.02 L 496.74 410.83 L 496.34 408.66 L 495.73 406.50 L 494.91 404.38 L 494.91 404.38" clip-path="url(#p04e8b476af)" style="fill: none; stroke: #cd8500; stroke-opacity: 0.7; stroke-width: 1.5; stroke-linecap: round"/>
</g>
<g id="line2d_105">
<path d="M 521.37 430.36 L 522.49 427.99 L 523.40 425.60 L 524.10 423.19 L 524.60 420.78 L 524.88 418.35 L 524.96 415.92 L 524.83 413.50 L 524.50 411.08 L 523.96 408.68 L 523.21 406.29 L 522.27 403.93 L 521.13 401.59 L 519.79 399.28 L 517.94 396.56 L 515.81 393.90 L 513.43 391.30 L 510.79 388.77 L 507.90 386.32 L 504.78 383.96 L 501.43 381.69 L 497.87 379.51 L 493.46 377.10 L 488.78 374.84 L 483.86 372.73 L 478.72 370.78 L 473.37 369.00 L 467.84 367.38 L 462.14 365.95 L 456.31 364.69 L 450.34 363.62 L 444.28 362.74 L 438.14 362.05 L 431.94 361.54 L 424.82 361.20 L 417.67 361.11 L 410.55 361.28 L 403.47 361.69 L 396.46 362.34 L 390.43 363.12 L 384.49 364.08 L 378.69 365.22 L 373.02 366.53 L 367.52 368.02 L 362.19 369.67 L 357.07 371.48 L 352.16 373.45 L 347.49 375.57 L 343.06 377.83 L 338.90 380.22 L 335.01 382.74 L 331.92 385.00 L 329.05 387.33 L 326.41 389.75 L 324.01 392.23 L 321.85 394.77 L 319.94 397.38 L 318.30 400.03 L 316.91 402.73 L 315.80 405.47 L 315.07 407.77 L 314.54 410.10 L 314.20 412.43 L 314.05 414.78 L 314.09 417.13 L 314.34 419.48 L 314.77 421.82 L 315.40 424.16 L 316.23 426.49 L 317.25 428.80 L 318.73 431.55 L 320.49 434.25 L 322.52 436.91 L 324.82 439.52 L 327.38 442.07 L 330.19 444.55 L 333.26 446.95 L 336.58 449.28 L 340.13 451.51 L 343.91 453.65 L 347.90 455.68 L 352.83 457.92 L 358.02 460.00 L 363.45 461.92 L 369.11 463.66 L 374.98 465.21 L 381.03 466.58 L 387.24 467.75 L 393.59 468.72 L 400.04 469.48 L 406.58 470.04 L 413.19 470.38 L 419.82 470.50 L 426.46 470.41 L 433.07 470.10 L 439.64 469.57 L 446.13 468.83 L 452.52 467.88 L 458.78 466.72 L 464.88 465.35 L 470.81 463.79 L 476.53 462.04 L 482.01 460.10 L 487.25 457.98 L 491.53 456.04 L 495.59 453.97 L 499.43 451.80 L 503.03 449.52 L 506.38 447.15 L 509.48 444.69 L 512.31 442.14 L 514.87 439.52 L 517.16 436.84 L 519.16 434.09 L 520.60 431.77 L 521.37 430.36 L 521.37 430.36" clip-path="url(#p04e8b476af)" style="fill: none; stroke: #0a72cd; stroke-opacity: 0.8; stroke-width: 1.5; stroke-linecap: round"/>
</g>
<g id="line2d_106">
<path d="M 302.09 463.27 L 305.81 465.88 L 309.73 468.41 L 314.90 471.46 L 320.37 474.36 L 326.11 477.12 L 332.12 479.73 L 338.37 482.17 L 344.85 484.44 L 351.55 486.53 L 358.43 488.45 L 365.49 490.17 L 372.70 491.71 L 380.04 493.06 L 387.50 494.21 L 395.04 495.17 L 402.66 495.93 L 410.33 496.49 L 418.03 496.85 L 425.74 497.02 L 433.45 496.99 L 441.12 496.76 L 448.75 496.35 L 456.31 495.75 L 463.79 494.97 L 471.17 494.00 L 478.43 492.87 L 485.56 491.56 L 492.55 490.09 L 499.37 488.45 L 506.02 486.67 L 512.49 484.74 L 518.76 482.67 L 524.82 480.47 L 530.66 478.13 L 536.28 475.68 L 541.66 473.12 L 546.80 470.45 L 551.68 467.68 L 556.32 464.82 L 560.69 461.87 L 564.80 458.84 L 568.64 455.75 L 572.21 452.58 L 575.50 449.37 L 578.52 446.10 L 581.26 442.78 L 583.72 439.43 L 585.90 436.05 L 587.81 432.64 L 589.43 429.21 L 590.78 425.77 L 591.85 422.32 L 592.64 418.87 L 593.17 415.43 L 593.42 411.99 L 593.41 408.57 L 593.13 405.17 L 592.59 401.80 L 591.79 398.45 L 590.74 395.14 L 589.45 391.87 L 587.90 388.64 L 586.12 385.46 L 584.10 382.33 L 581.85 379.26 L 579.37 376.25 L 576.67 373.30 L 573.75 370.42 L 570.62 367.62 L 567.29 364.88 L 563.03 361.71 L 558.49 358.65 L 553.69 355.71 L 548.62 352.90 L 543.31 350.23 L 537.77 347.70 L 532.00 345.30 L 526.02 343.06 L 519.83 340.97 L 513.46 339.03 L 506.90 337.25 L 500.18 335.64 L 493.31 334.19 L 486.30 332.92 L 479.16 331.82 L 471.90 330.89 L 463.31 330.04 L 454.60 329.44 L 445.80 329.09 L 436.93 328.99 L 429.29 329.12 L 421.63 329.44 L 413.97 329.95 L 406.32 330.66 L 398.70 331.56 L 391.13 332.66 L 383.62 333.96 L 376.20 335.46 L 368.87 337.15 L 361.67 339.04 L 354.60 341.12 L 347.70 343.39 L 340.97 345.86 L 334.43 348.51 L 328.12 351.35 L 323.04 353.85 L 318.13 356.48 L 313.42 359.23 L 308.90 362.09 L 304.60 365.07 L 300.53 368.15 L 296.69 371.34 L 293.11 374.63 L 289.78 378.02 L 286.72 381.49 L 283.95 385.05 L 281.94 387.95 L 280.13 390.90 L 278.51 393.89 L 277.10 396.92 L 275.90 399.98 L 274.90 403.07 L 274.13 406.19 L 273.57 409.33 L 273.24 412.49 L 273.13 415.66 L 273.25 418.84 L 273.61 422.02 L 274.19 425.20 L 275.02 428.38 L 276.07 431.53 L 277.36 434.68 L 278.89 437.79 L 280.66 440.88 L 282.66 443.94 L 284.89 446.96 L 287.35 449.93 L 290.04 452.85 L 292.95 455.71 L 296.09 458.52 L 299.44 461.26 L 302.09 463.27 L 302.09 463.27" clip-path="url(#p04e8b476af)" style="fill: none; stroke: #c83e0c; stroke-opacity: 0.7; stroke-width: 1.5; stroke-linecap: round"/>
</g>
<g id="line2d_107">
<path d="M 643.27 709.48 L 656.12 706.46 L 671.38 702.60 L 686.37 698.51 L 701.09 694.18 L 709.48 691.56 M 709.48 187.18 L 696.58 183.21 L 682.16 179.06 L 667.55 175.15 L 652.77 171.48 L 637.82 168.05 L 622.72 164.87 L 607.48 161.94 L 592.11 159.25 L 576.62 156.80 L 561.03 154.61 L 545.34 152.66 L 529.56 150.96 L 513.71 149.50 L 497.80 148.30 L 481.83 147.35 L 465.82 146.64 L 449.79 146.19 L 433.73 145.99 L 417.66 146.03 L 401.60 146.33 L 385.55 146.88 L 369.52 147.68 L 353.53 148.74 L 337.59 150.04 L 321.70 151.60 L 305.88 153.41 L 290.14 155.47 L 274.49 157.78 L 258.95 160.34 L 243.52 163.15 L 228.21 166.22 L 213.05 169.53 L 198.04 173.10 L 183.19 176.91 L 168.52 180.98 L 154.04 185.29 L 143.31 188.68 L 132.70 192.22 L 122.21 195.89 L 111.86 199.70 L 101.64 203.65 L 91.57 207.73 L 81.64 211.95 L 71.87 216.31 L 62.27 220.79 L 52.82 225.42 L 43.56 230.17 L 34.47 235.06 L 25.57 240.07 L 16.86 245.22 L 8.35 250.49 L -1 256.59 M -1 622.21 L 4.44 625.80 L 11.46 630.27 L 18.67 634.68 L 26.06 639.02 L 33.62 643.28 L 41.37 647.48 L 53.30 653.62 L 65.62 659.60 L 78.30 665.38 L 91.35 670.97 L 104.74 676.37 L 118.48 681.55 L 132.54 686.52 L 146.91 691.27 L 161.58 695.79 L 176.53 700.07 L 191.76 704.11 L 207.24 707.91 L 214.04 709.48 L 214.04 709.48" clip-path="url(#p04e8b476af)" style="fill: none; stroke: #a0522d; stroke-opacity: 0.7; stroke-width: 1.5; stroke-linecap: round"/>
</g>
<g id="Path3DCollection_2">
<g clip-path="url(#p04e8b476af)">
<path d="M 0 3.87 C 1.02 3.87 2.01 3.46 2.73 2.73 C 3.46 2.01 3.87 1.02 3.87 0 C 3.87 -1.02 3.46 -2.01 2.73 -2.73 C 2.01 -3.46 1.02 -3.87 0 -3.87 C -1.02 -3.87 -2.01 -3.46 -2.73 -2.73 C -3.46 -2.01 -3.87 -1.02 -3.87 0 C -3.87 1.02 -3.46 2.01 -2.73 2.73 C -2.01 3.46 -1.02 3.87 0 3.87 z" transform="translate(421.18 414.68)" style="stroke: #000000; stroke-width: 0.7;fill: #ffff00; stroke: #000000; stroke-width: 0.7"/>
</g>
</g>
<g id="legend_1">
<g id="Path3DCollection_3">
<g>
<path d="M 0 2.44 C 0.64 2.44 1.27 2.19 1.73 1.73 C 2.19 1.27 2.44 0.64 2.44 0 C 2.44 -0.64 2.19 -1.27 1.73 -1.73 C 1.27 -2.19 0.64 -2.44 0 -2.44 C -0.64 -2.44 -1.27 -2.19 -1.73 -1.73 C -2.19 -1.27 -2.44 -0.64 -2.44 0 C -2.44 0.64 -2.19 1.27 -1.73 1.73 C -1.27 2.19 -0.64 2.44 0 2.44 z" transform="translate(40.60 572.23)" style="stroke: #000000; stroke-width: 0.6;fill: #cd8500; stroke: #000000; stroke-width: 0.6"/>
</g>
</g>
<g id="text_25">
<text style="font-size: 10px; font-family: 'Liberation Sans', sans-serif; text-anchor: start; fill: #262626" x="58.6" y="575.55" transform="rotate(0 58.6 575.55)">Venus</text>
</g>
<g id="Path3DCollection_4">
<g>
<path d="M 0 2.44 C 0.64 2.44 1.27 2.19 1.73 1.73 C 2.19 1.27 2.44 0.64 2.44 0 C 2.44 -0.64 2.19 -1.27 1.73 -1.73 C 1.27 -2.19 0.64 -2.44 0 -2.44 C -0.64 -2.44 -1.27 -2.19 -1.73 -1.73 C -2.19 -1.27 -2.44 -0.64 -2.44 0 C -2.44 0.64 -2.19 1.27 -1.73 1.73 C -1.27 2.19 -0.64 2.44 0 2.44 z" transform="translate(40.60 586.55)" style="stroke: #000000; stroke-width: 0.6;fill: #1473be; stroke: #000000; stroke-width: 0.6"/>
</g>
</g>
<g id="text_26">
<text style="font-size: 10px; font-family: 'Liberation Sans', sans-serif; text-anchor: start; fill: #262626" x="58.6" y="589.87" transform="rotate(0 58.6 589.87)">Maa</text>
</g>
<g id="Path3DCollection_5">
<g>
<path d="M 0 2.44 C 0.64 2.44 1.27 2.19 1.73 1.73 C 2.19 1.27 2.44 0.64 2.44 0 C 2.44 -0.64 2.19 -1.27 1.73 -1.73 C 1.27 -2.19 0.64 -2.44 0 -2.44 C -0.64 -2.44 -1.27 -2.19 -1.73 -1.73 C -2.19 -1.27 -2.44 -0.64 -2.44 0 C -2.44 0.64 -2.19 1.27 -1.73 1.73 C -1.27 2.19 -0.64 2.44 0 2.44 z" transform="translate(40.60 600.87)" style="stroke: #000000; stroke-width: 0.6;fill: #c83e0c; stroke: #000000; stroke-width: 0.6"/>
</g>
</g>
<g id="text_27">
<text style="font-size: 10px; font-family: 'Liberation Sans', sans-serif; text-anchor: start; fill: #262626" x="58.6" y="604.19" transform="rotate(0 58.6 604.19)">Mars</text>
</g>
<g id="Path3DCollection_6">
<g>
<path d="M 0 2.44 C 0.64 2.44 1.27 2.19 1.73 1.73 C 2.19 1.27 2.44 0.64 2.44 0 C 2.44 -0.64 2.19 -1.27 1.73 -1.73 C 1.27 -2.19 0.64 -2.44 0 -2.44 C -0.64 -2.44 -1.27 -2.19 -1.73 -1.73 C -2.19 -1.27 -2.44 -0.64 -2.44 0 C -2.44 0.64 -2.19 1.27 -1.73 1.73 C -1.27 2.19 -0.64 2.44 0 2.44 z" transform="translate(40.60 615.19)" style="stroke: #000000; stroke-width: 0.6;fill: #a0522d; stroke: #000000; stroke-width: 0.6"/>
</g>
</g>
<g id="text_28">
<text style="font-size: 10px; font-family: 'Liberation Sans', sans-serif; text-anchor: start; fill: #262626" x="58.6" y="618.51" transform="rotate(0 58.6 618.51)">Jupiter</text>
</g>
<g id="Path3DCollection_7">
<g>
<path d="M 0 3.87 C 1.02 3.87 2.01 3.46 2.73 2.73 C 3.46 2.01 3.87 1.02 3.87 0 C 3.87 -1.02 3.46 -2.01 2.73 -2.73 C 2.01 -3.46 1.02 -3.87 0 -3.87 C -1.02 -3.87 -2.01 -3.46 -2.73 -2.73 C -3.46 -2.01 -3.87 -1.02 -3.87 0 C -3.87 1.02 -3.46 2.01 -2.73 2.73 C -2.01 3.46 -1.02 3.87 0 3.87 z" transform="translate(40.60 629.51)" style="stroke: #000000; stroke-width: 0.7;fill: #ffff00; stroke: #000000; stroke-width: 0.7"/>
</g>
</g>
<g id="text_29">
<text style="font-size: 10px; font-family: 'Liberation Sans', sans-serif; text-anchor: start; fill: #262626" x="58.6" y="632.83" transform="rotate(0 58.6 632.83)">Aurinko</text>
</g>
<g id="line2d_108">
<g>
<path d="M -0 4.31 L 4.31 0 L 0 -4.31 L -4.31 -0 z" transform="translate(40.60 643.66)" style="stroke: #ffffff; stroke-width: 0.5; stroke-linejoin: miter;fill: #9400d3; stroke: #ffffff; stroke-width: 0.5; stroke-linejoin: miter"/>
</g>
</g>
<g id="text_30">
<text style="font-size: 10px; font-family: 'Liberation Sans', sans-serif; text-anchor: start; fill: #262626" x="58.6" y="647.16" transform="rotate(0 58.6 647.16)">Apheli</text>
</g>
<g id="line2d_109">
<path d="M 30.6 657.98 L 40.6 657.98 L 50.6 657.98" style="fill: none; stroke: #0f7d14; stroke-width: 1.5; stroke-linecap: round"/>
</g>
<g id="text_31">
<text style="font-size: 10px; font-family: 'Liberation Sans', sans-serif; text-anchor: start; fill: #262626" x="58.6" y="661.48" transform="rotate(0 58.6 661.48)">Meteoroidin rata (ekliptikan yläpuolella)</text>
</g>
<g id="line2d_110">
<path d="M 30.6 672.30 L 40.6 672.30 L 50.6 672.30" style="fill: none; stroke: #d71923; stroke-width: 1.5; stroke-linecap: round"/>
</g>
<g id="text_32">
<text style="font-size: 10px; font-family: 'Liberation Sans', sans-serif; text-anchor: start; fill: #262626" x="58.6" y="675.80" transform="rotate(0 58.6 675.80)">Meteoroidin rata (ekliptikan alapuolella)</text>
</g>
</g>
<g id="line2d_111">
<path d="M 368.28 463.19 L 373.24 464.61 L 378.34 465.89 L 383.56 467.03 L 390.70 468.32 L 398.00 469.35 L 405.42 470.10 L 412.92 470.58 L 420.46 470.78 L 428.01 470.70 L 435.52 470.33 L 442.96 469.69 L 450.29 468.78 L 457.46 467.59 L 464.44 466.15 L 469.53 464.90 L 474.48 463.50 L 479.27 461.98 L 483.89 460.32 L 488.33 458.54 L 492.58 456.64 L 496.62 454.62 L 500.44 452.50 L 504.03 450.27 L 507.38 447.96 L 510.49 445.55 L 513.34 443.06 L 515.93 440.50 L 518.25 437.88 L 520.30 435.20 L 522.07 432.46 L 523.55 429.69 L 524.75 426.88 L 525.66 424.05 L 526.28 421.19 L 526.61 418.33 L 526.65 415.46 L 526.40 412.60 L 525.86 409.75 L 525.04 406.93 L 523.94 404.13 L 522.56 401.37 L 520.91 398.65 L 519.00 395.98 L 516.82 393.37 L 514.38 390.82 L 511.71 388.35 L 508.79 385.95 L 505.64 383.63 L 502.27 381.40 L 498.69 379.27 L 494.91 377.24 L 490.93 375.31 L 486.78 373.49 L 482.46 371.78 L 476.45 369.69 L 470.19 367.82 L 463.71 366.17 L 457.03 364.76 L 450.19 363.58 L 443.22 362.65 L 436.15 361.97 L 429.02 361.54 L 421.85 361.36 L 414.67 361.44 L 407.53 361.76 L 400.44 362.34 L 393.46 363.17 L 386.59 364.25 L 379.89 365.56 L 373.37 367.11 L 367.06 368.89 L 361.01 370.90 L 355.23 373.11 L 351.09 374.91 L 347.14 376.81 L 343.37 378.83 L 339.81 380.94 L 336.46 383.15 L 333.33 385.44 L 330.44 387.82 L 327.78 390.28 L 325.37 392.82 L 323.22 395.41 L 321.32 398.07 L 319.69 400.78 L 318.34 403.53 L 317.26 406.32 L 316.47 409.14 L 315.95 411.99 L 315.73 414.85 L 315.79 417.71 L 316.15 420.58 L 316.79 423.43 L 317.72 426.27 L 318.95 429.09 L 320.45 431.87 L 322.24 434.61 L 324.31 437.31 L 326.65 439.95 L 329.26 442.52 L 332.13 445.02 L 335.26 447.45 L 338.63 449.78 L 342.24 452.03 L 346.07 454.17 L 350.13 456.21 L 354.39 458.14 L 358.84 459.95 L 363.48 461.63 L 368.28 463.19 L 368.28 463.19" clip-path="url(#p04e8b476af)" style="fill: none; stroke-dasharray: 2.65,1.2; stroke-dashoffset: 0; stroke: #0808c0; stroke-opacity: 0.58; stroke-width: 0.75"/>
</g>
<g id="line2d_112">
<path d="M 312.94 513.94 L 319.63 515.96 L 326.45 517.85 L 333.41 519.61 L 340.49 521.24 L 347.69 522.74 L 354.98 524.09 L 362.37 525.32 L 369.85 526.40 L 377.39 527.33 L 385.00 528.13 L 392.66 528.78 L 400.36 529.28 L 408.09 529.64 L 419.71 529.89 L 431.35 529.82 L 442.94 529.41 L 450.64 528.96 L 458.30 528.35 L 465.90 527.61 L 473.44 526.71 L 480.91 525.68 L 488.29 524.50 L 495.58 523.19 L 502.76 521.74 L 509.83 520.15 L 516.78 518.43 L 523.60 516.58 L 530.27 514.60 L 536.79 512.50 L 543.15 510.28 L 549.34 507.95 L 555.36 505.50 L 561.19 502.94 L 566.84 500.27 L 572.28 497.50 L 577.52 494.64 L 582.55 491.68 L 587.36 488.63 L 591.95 485.50 L 596.31 482.28 L 600.44 479.00 L 604.33 475.64 L 607.98 472.21 L 611.39 468.73 L 614.55 465.18 L 617.45 461.59 L 620.11 457.95 L 622.51 454.27 L 624.65 450.55 L 626.53 446.80 L 628.15 443.02 L 629.51 439.22 L 630.61 435.41 L 631.45 431.58 L 632.03 427.75 L 632.34 423.91 L 632.40 420.08 L 632.20 416.25 L 631.75 412.43 L 631.04 408.63 L 630.08 404.85 L 628.87 401.10 L 627.41 397.38 L 625.71 393.69 L 623.77 390.03 L 621.59 386.42 L 619.17 382.86 L 616.53 379.35 L 613.67 375.88 L 610.58 372.48 L 607.28 369.14 L 603.76 365.86 L 600.04 362.66 L 596.12 359.52 L 592.01 356.46 L 587.70 353.47 L 583.21 350.57 L 578.54 347.75 L 573.69 345.01 L 568.68 342.37 L 563.51 339.82 L 558.18 337.36 L 549.92 333.85 L 541.34 330.57 L 532.47 327.52 L 523.34 324.70 L 513.96 322.13 L 504.36 319.81 L 494.56 317.74 L 484.59 315.93 L 474.47 314.38 L 464.23 313.10 L 453.88 312.08 L 443.46 311.32 L 432.99 310.84 L 422.49 310.63 L 411.98 310.69 L 401.50 311.03 L 391.07 311.63 L 380.70 312.50 L 370.44 313.64 L 360.29 315.05 L 350.28 316.72 L 340.45 318.65 L 330.80 320.83 L 321.37 323.26 L 312.18 325.94 L 303.25 328.87 L 294.61 332.02 L 286.27 335.41 L 280.89 337.79 L 275.67 340.26 L 270.60 342.83 L 265.70 345.49 L 260.97 348.24 L 256.41 351.08 L 252.04 354.00 L 247.86 356.99 L 243.87 360.07 L 240.08 363.22 L 236.49 366.44 L 233.11 369.73 L 229.95 373.08 L 227.00 376.50 L 224.28 379.97 L 221.79 383.49 L 219.52 387.06 L 217.49 390.68 L 215.71 394.34 L 214.16 398.03 L 212.86 401.76 L 211.80 405.52 L 211.00 409.31 L 210.45 413.11 L 210.15 416.93 L 210.12 420.76 L 210.34 424.59 L 210.82 428.43 L 211.55 432.26 L 212.55 436.09 L 213.82 439.90 L 215.34 443.69 L 217.12 447.47 L 219.16 451.21 L 221.45 454.92 L 224.01 458.60 L 226.82 462.23 L 229.88 465.82 L 233.18 469.35 L 236.74 472.82 L 240.54 476.24 L 244.57 479.58 L 248.84 482.86 L 253.34 486.06 L 258.06 489.18 L 263.00 492.21 L 268.16 495.15 L 273.52 498.00 L 279.08 500.75 L 284.84 503.40 L 290.78 505.94 L 296.91 508.37 L 303.20 510.69 L 309.65 512.89 L 312.94 513.94 L 312.94 513.94" clip-path="url(#p04e8b476af)" style="fill: none; stroke-dasharray: 2.65,1.2; stroke-dashoffset: 0; stroke: #0808c0; stroke-opacity: 0.58; stroke-width: 0.75"/>
</g>
<g id="line2d_113">
<path d="M 254.98 567.10 L 265.17 570.27 L 275.59 573.25 L 286.23 576.02 L 297.07 578.59 L 308.10 580.95 L 319.29 583.10 L 330.64 585.03 L 342.13 586.73 L 353.73 588.22 L 365.44 589.48 L 377.24 590.50 L 389.10 591.30 L 401.01 591.86 L 412.95 592.19 L 424.90 592.29 L 436.85 592.15 L 448.78 591.78 L 460.66 591.17 L 472.49 590.34 L 484.24 589.27 L 495.89 587.97 L 507.43 586.45 L 518.84 584.70 L 530.10 582.73 L 541.21 580.55 L 552.13 578.15 L 562.85 575.54 L 573.37 572.73 L 583.66 569.72 L 593.71 566.52 L 603.51 563.12 L 613.04 559.55 L 622.29 555.79 L 631.25 551.87 L 639.90 547.78 L 648.25 543.54 L 656.26 539.14 L 663.95 534.61 L 671.29 529.94 L 678.28 525.13 L 684.91 520.21 L 691.17 515.18 L 697.07 510.04 L 702.58 504.80 L 707.72 499.48 L 709.48 497.52 M 709.48 359.39 L 704.96 354.49 L 700.00 349.53 L 694.73 344.67 L 689.16 339.92 L 683.30 335.27 L 677.16 330.74 L 670.75 326.32 L 664.08 322.03 L 657.15 317.86 L 649.97 313.82 L 642.56 309.92 L 634.92 306.15 L 627.06 302.51 L 618.99 299.02 L 610.72 295.68 L 602.26 292.48 L 593.61 289.43 L 584.80 286.54 L 575.82 283.80 L 566.69 281.22 L 557.41 278.79 L 548.00 276.53 L 538.47 274.43 L 528.83 272.49 L 519.07 270.71 L 509.23 269.11 L 499.30 267.67 L 489.29 266.40 L 479.22 265.30 L 469.09 264.37 L 458.92 263.61 L 448.71 263.02 L 438.48 262.61 L 428.23 262.36 L 417.97 262.29 L 407.72 262.39 L 397.48 262.67 L 387.26 263.11 L 377.07 263.73 L 366.93 264.52 L 356.84 265.48 L 346.82 266.61 L 336.86 267.91 L 326.99 269.38 L 317.21 271.02 L 307.53 272.82 L 297.96 274.79 L 288.52 276.92 L 279.20 279.21 L 270.02 281.66 L 261.00 284.28 L 252.13 287.04 L 243.43 289.96 L 234.91 293.04 L 226.58 296.26 L 218.45 299.63 L 210.52 303.15 L 202.81 306.80 L 195.32 310.60 L 188.07 314.53 L 181.06 318.59 L 174.30 322.78 L 167.80 327.10 L 161.57 331.53 L 155.62 336.09 L 149.95 340.75 L 144.58 345.53 L 139.51 350.41 L 134.75 355.38 L 130.31 360.46 L 126.19 365.62 L 122.40 370.86 L 118.95 376.19 L 115.85 381.59 L 113.09 387.05 L 110.70 392.58 L 108.66 398.16 L 107.00 403.80 L 105.71 409.47 L 104.79 415.19 L 104.26 420.93 L 104.11 426.69 L 104.36 432.48 L 104.99 438.27 L 106.01 444.06 L 107.44 449.85 L 109.26 455.62 L 111.47 461.37 L 114.09 467.10 L 117.10 472.79 L 120.52 478.44 L 124.32 484.03 L 128.52 489.57 L 133.11 495.04 L 138.09 500.43 L 143.45 505.74 L 149.19 510.96 L 155.30 516.08 L 161.79 521.10 L 168.63 526.00 L 175.82 530.77 L 183.37 535.42 L 191.25 539.94 L 199.45 544.30 L 207.98 548.52 L 216.81 552.58 L 225.94 556.47 L 235.35 560.19 L 245.04 563.74 L 254.98 567.10 L 254.98 567.10" clip-path="url(#p04e8b476af)" style="fill: none; stroke-dasharray: 2.65,1.2; stroke-dashoffset: 0; stroke: #0808c0; stroke-opacity: 0.58; stroke-width: 0.75"/>
</g>
<g id="line2d_114">
<path d="M 421.17 414.68 L 254.98 567.10" clip-path="url(#p04e8b476af)" style="fill: none; stroke-dasharray: 2.65,1.2; stroke-dashoffset: 0; stroke: #0808c0; stroke-opacity: 0.58; stroke-width: 0.75"/>
</g>
<g id="line2d_115">
<path d="M 421.17 414.68 L 424.90 592.29" clip-path="url(#p04e8b476af)" style="fill: none; stroke-dasharray: 2.65,1.2; stroke-dashoffset: 0; stroke: #0808c0; stroke-opacity: 0.58; stroke-width: 0.75"/>
</g>
<g id="line2d_116">
<path d="M 421.17 414.68 L 593.71 566.52" clip-path="url(#p04e8b476af)" style="fill: none; stroke-dasharray: 2.65,1.2; stroke-dashoffset: 0; stroke: #0808c0; stroke-opacity: 0.58; stroke-width: 0.75"/>
</g>
<g id="line2d_117">
<path d="M 421.17 414.68 L 707.72 499.48" clip-path="url(#p04e8b476af)" style="fill: none; stroke-dasharray: 2.65,1.2; stroke-dashoffset: 0; stroke: #0808c0; stroke-opacity: 0.58; stroke-width: 0.75"/>
</g>
<g id="line2d_118">
<path d="M 421.17 414.68 L 709.48 414.21" clip-path="url(#p04e8b476af)" style="fill: none; stroke-dasharray: 2.65,1.2; stroke-dashoffset: 0; stroke: #0808c0; stroke-opacity: 0.58; stroke-width: 0.75"/>
</g>
<g id="line2d_119">
<path d="M 421.17 414.68 L 683.30 335.27" clip-path="url(#p04e8b476af)" style="fill: none; stroke-dasharray: 2.65,1.2; stroke-dashoffset: 0; stroke: #0808c0; stroke-opacity: 0.58; stroke-width: 0.75"/>
</g>
<g id="line2d_120">
<path d="M 421.17 414.68 L 566.69 281.22" clip-path="url(#p04e8b476af)" style="fill: none; stroke-dasharray: 2.65,1.2; stroke-dashoffset: 0; stroke: #0808c0; stroke-opacity: 0.58; stroke-width: 0.75"/>
</g>
<g id="line2d_121">
<path d="M 421.17 414.68 L 417.97 262.29" clip-path="url(#p04e8b476af)" style="fill: none; stroke-dasharray: 2.65,1.2; stroke-dashoffset: 0; stroke: #0808c0; stroke-opacity: 0.58; stroke-width: 0.75"/>
</g>
<g id="line2d_122">
<path d="M 421.17 414.68 L 270.02 281.66" clip-path="url(#p04e8b476af)" style="fill: none; stroke-dasharray: 2.65,1.2; stroke-dashoffset: 0; stroke: #0808c0; stroke-opacity: 0.58; stroke-width: 0.75"/>
</g>
<g id="line2d_123">
<path d="M 421.17 414.68 L 155.62 336.09" clip-path="url(#p04e8b476af)" style="fill: none; stroke-dasharray: 2.65,1.2; stroke-dashoffset: 0; stroke: #0808c0; stroke-opacity: 0.58; stroke-width: 0.75"/>
</g>
<g id="line2d_124">
<path d="M 421.17 414.68 L 104.79 415.19" clip-path="url(#p04e8b476af)" style="fill: none; stroke-dasharray: 2.65,1.2; stroke-dashoffset: 0; stroke: #0808c0; stroke-opacity: 0.58; stroke-width: 0.75"/>
</g>
<g id="line2d_125">
<path d="M 421.17 414.68 L 138.09 500.43" clip-path="url(#p04e8b476af)" style="fill: none; stroke-dasharray: 2.65,1.2; stroke-dashoffset: 0; stroke: #0808c0; stroke-opacity: 0.58; stroke-width: 0.75"/>
</g>
<g id="Path3DCollection_8">
<g clip-path="url(#p04e8b476af)">
<path d="M -3.53 3.53 L 3.53 -3.53 M -3.53 -3.53 L 3.53 3.53" transform="translate(299.90 281.64)" style="stroke: #9400d3; stroke-width: 1.1;fill: #9400d3; stroke: #9400d3; stroke-width: 1.1"/>
</g>
</g>
<g id="Path3DCollection_9">
<g clip-path="url(#p04e8b476af)">
<path d="M -0 4.94 L 4.94 0 L 0 -4.94 L -4.94 -0 z" transform="translate(299.88 279.89)" style="stroke: #ffffff; stroke-width: 0.6;fill: #9400d3; stroke: #ffffff; stroke-width: 0.6"/>
</g>
</g>
<g id="Path3DCollection_10">
<g clip-path="url(#p04e8b476af)">
<path d="M 0 2.44 C 0.64 2.44 1.27 2.19 1.73 1.73 C 2.19 1.27 2.44 0.64 2.44 0 C 2.44 -0.64 2.19 -1.27 1.73 -1.73 C 1.27 -2.19 0.64 -2.44 0 -2.44 C -0.64 -2.44 -1.27 -2.19 -1.73 -1.73 C -2.19 -1.27 -2.44 -0.64 -2.44 0 C -2.44 0.64 -2.19 1.27 -1.73 1.73 C -1.27 2.19 -0.64 2.44 0 2.44 z" transform="translate(379.38 451.38)" style="stroke: #000000; stroke-width: 0.6;fill: #cd8500; stroke: #000000; stroke-width: 0.6"/>
</g>
</g>
<g id="Path3DCollection_11">
<g clip-path="url(#p04e8b476af)">
<path d="M 0 2.44 C 0.64 2.44 1.27 2.19 1.73 1.73 C 2.19 1.27 2.44 0.64 2.44 0 C 2.44 -0.64 2.19 -1.27 1.73 -1.73 C 1.27 -2.19 0.64 -2.44 0 -2.44 C -0.64 -2.44 -1.27 -2.19 -1.73 -1.73 C -2.19 -1.27 -2.44 -0.64 -2.44 0 C -2.44 0.64 -2.19 1.27 -1.73 1.73 C -1.27 2.19 -0.64 2.44 0 2.44 z" transform="translate(485.77 458.62)" style="stroke: #000000; stroke-width: 0.6;fill: #1473be; stroke: #000000; stroke-width: 0.6"/>
</g>
</g>
<g id="Path3DCollection_12">
<g clip-path="url(#p04e8b476af)">
<path d="M 0 2.44 C 0.64 2.44 1.27 2.19 1.73 1.73 C 2.19 1.27 2.44 0.64 2.44 0 C 2.44 -0.64 2.19 -1.27 1.73 -1.73 C 1.27 -2.19 0.64 -2.44 0 -2.44 C -0.64 -2.44 -1.27 -2.19 -1.73 -1.73 C -2.19 -1.27 -2.44 -0.64 -2.44 0 C -2.44 0.64 -2.19 1.27 -1.73 1.73 C -1.27 2.19 -0.64 2.44 0 2.44 z" transform="translate(336.99 481.65)" style="stroke: #000000; stroke-width: 0.6;fill: #c83e0c; stroke: #000000; stroke-width: 0.6"/>
</g>
</g>
<g id="Path3DCollection_13">
<g clip-path="url(#p04e8b476af)">
<path d="M 0 2.44 C 0.64 2.44 1.27 2.19 1.73 1.73 C 2.19 1.27 2.44 0.64 2.44 0 C 2.44 -0.64 2.19 -1.27 1.73 -1.73 C 1.27 -2.19 0.64 -2.44 0 -2.44 C -0.64 -2.44 -1.27 -2.19 -1.73 -1.73 C -2.19 -1.27 -2.44 -0.64 -2.44 0 C -2.44 0.64 -2.19 1.27 -1.73 1.73 C -1.27 2.19 -0.64 2.44 0 2.44 z" transform="translate(605.12 161.51)" style="stroke: #000000; stroke-width: 0.6;fill: #a0522d; stroke: #000000; stroke-width: 0.6"/>
</g>
</g>
<g id="text_33">
<text style="font-size: 9px; font-family: 'Liberation Sans', sans-serif; text-anchor: start" x="377.25" y="453.23" transform="rotate(0 377.25 453.23)">Venus</text>
</g>
<g id="text_34">
<text style="font-size: 9px; font-family: 'Liberation Sans', sans-serif; text-anchor: start" x="489.07" y="460.86" transform="rotate(0 489.07 460.86)">Maa</text>
</g>
<g id="text_35">
<text style="font-size: 9px; font-family: 'Liberation Sans', sans-serif; text-anchor: start" x="332.64" y="485.10" transform="rotate(0 332.64 485.10)">Mars</text>
</g>
<g id="text_36">
<text style="font-size: 9px; font-family: 'Liberation Sans', sans-serif; text-anchor: start" x="613.22" y="150.34" transform="rotate(0 613.22 150.34)">Jupiter</text>
</g>
</g>
<g id="text_37">
<text style="font-style: italic; font-size: 16px; font-family: 'Liberation Sans', sans-serif; text-anchor: middle; fill: #262626" x="354.24" y="68.97" transform="rotate(0 354.24 68.97)">Meteoroidin heliosentrinen kiertorata</text>
</g>
</g>
<defs>
<clipPath id="p04e8b476af">
<rect x="21.6" y="21.6" width="665.28" height="665.28"/>
</clipPath>
</defs>
</svg>

</body></html>
